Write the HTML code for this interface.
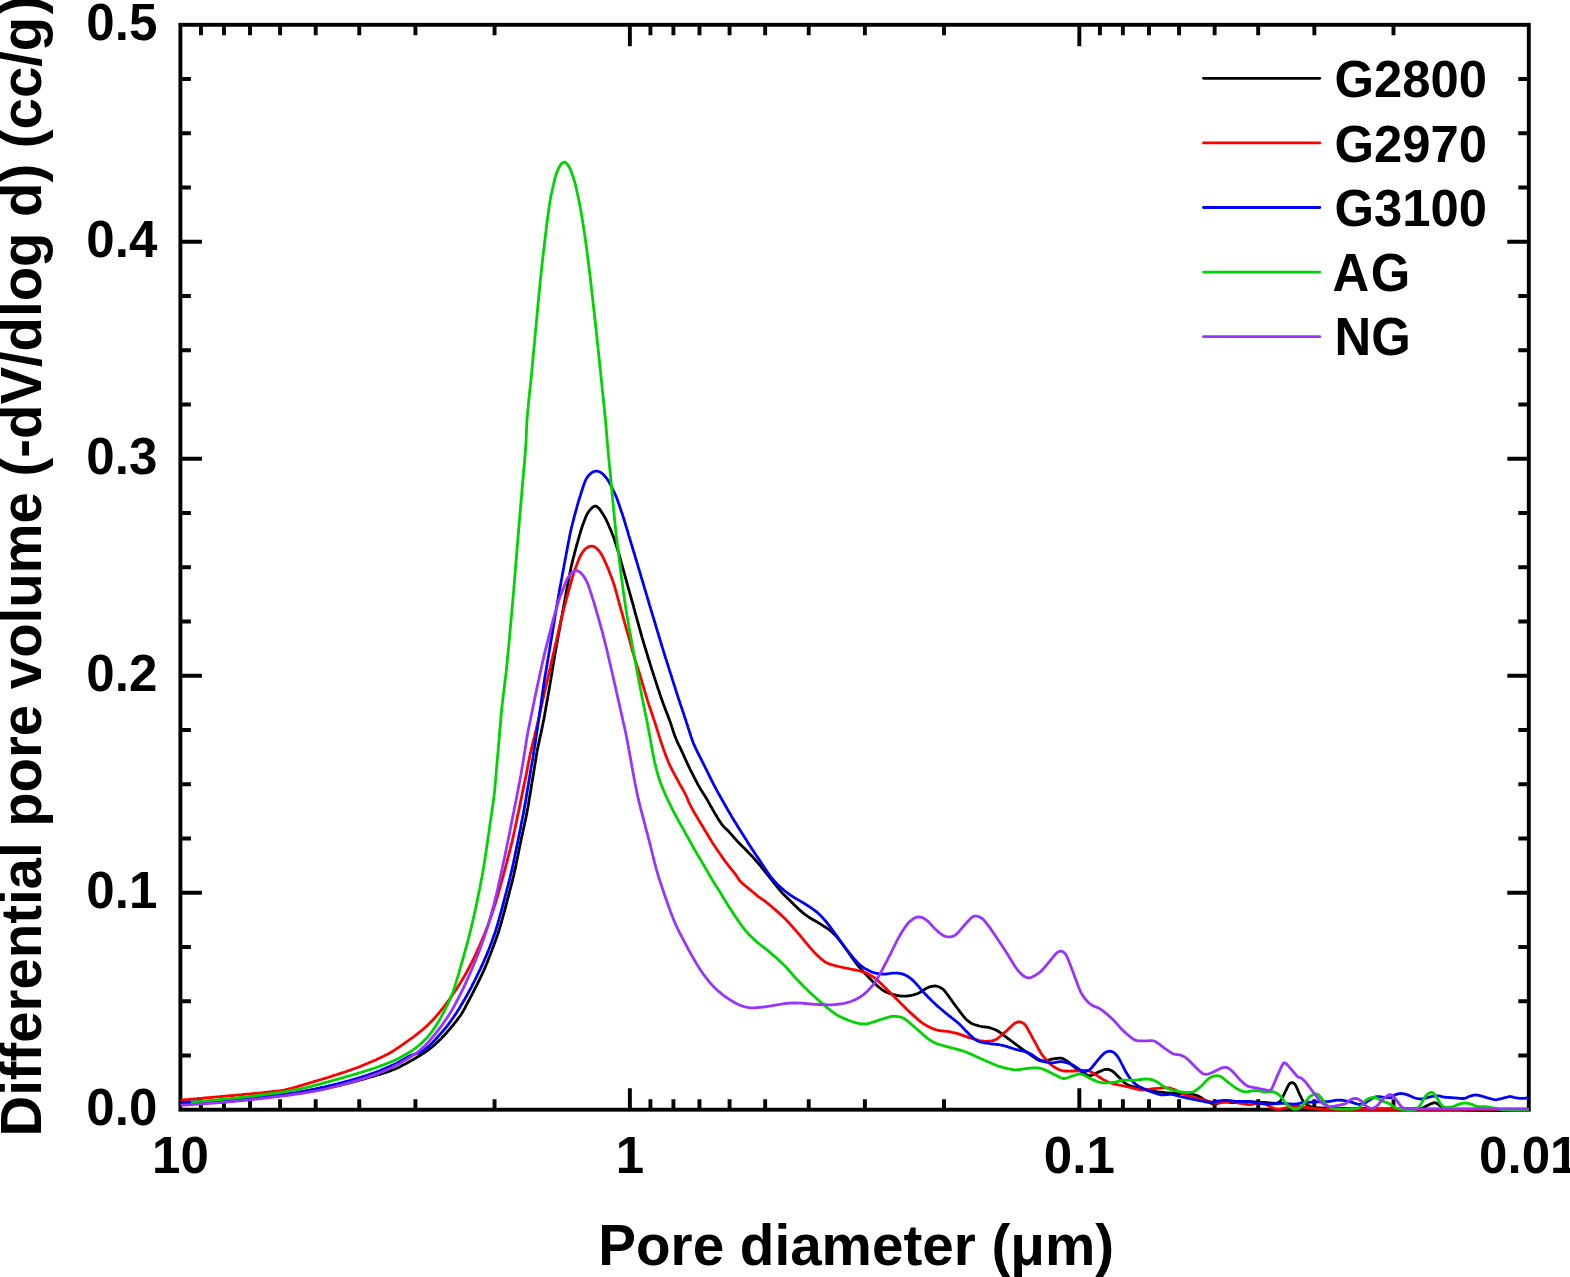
<!DOCTYPE html>
<html><head><meta charset="utf-8"><title>Pore size distribution</title>
<style>
html,body{margin:0;padding:0;background:#fff;}
body{width:1570px;height:1277px;overflow:hidden;}
svg{display:block;}
text{font-family:"Liberation Sans",Arial,Helvetica,sans-serif;font-weight:bold;fill:#000;}
.tl{font-size:51.1px;}
.yl{font-size:56.3px;}
.al{font-size:56.6px;}
.lg{font-size:50.8px;}
</style></head><body>
<svg width="1570" height="1277" viewBox="0 0 1570 1277">
<rect x="0" y="0" width="1570" height="1277" fill="#fff"/>
<path d="M629.87,1109.7 v-21.5 M629.87,24.8 v21.5 M494.56,1109.7 v-10.5 M494.56,24.8 v10.5 M415.42,1109.7 v-10.5 M415.42,24.8 v10.5 M359.26,1109.7 v-10.5 M359.26,24.8 v10.5 M315.70,1109.7 v-10.5 M315.70,24.8 v10.5 M280.11,1109.7 v-10.5 M280.11,24.8 v10.5 M250.02,1109.7 v-10.5 M250.02,24.8 v10.5 M223.96,1109.7 v-10.5 M223.96,24.8 v10.5 M200.97,1109.7 v-10.5 M200.97,24.8 v10.5 M1079.33,1109.7 v-21.5 M1079.33,24.8 v21.5 M944.03,1109.7 v-10.5 M944.03,24.8 v10.5 M864.88,1109.7 v-10.5 M864.88,24.8 v10.5 M808.73,1109.7 v-10.5 M808.73,24.8 v10.5 M765.17,1109.7 v-10.5 M765.17,24.8 v10.5 M729.58,1109.7 v-10.5 M729.58,24.8 v10.5 M699.49,1109.7 v-10.5 M699.49,24.8 v10.5 M673.42,1109.7 v-10.5 M673.42,24.8 v10.5 M650.43,1109.7 v-10.5 M650.43,24.8 v10.5 M1393.50,1109.7 v-10.5 M1393.50,24.8 v10.5 M1314.35,1109.7 v-10.5 M1314.35,24.8 v10.5 M1258.19,1109.7 v-10.5 M1258.19,24.8 v10.5 M1214.64,1109.7 v-10.5 M1214.64,24.8 v10.5 M1179.05,1109.7 v-10.5 M1179.05,24.8 v10.5 M1148.96,1109.7 v-10.5 M1148.96,24.8 v10.5 M1122.89,1109.7 v-10.5 M1122.89,24.8 v10.5 M1099.90,1109.7 v-10.5 M1099.90,24.8 v10.5 M180.4,1055.45 h10.5 M1528.8,1055.45 h-10.5 M180.4,1001.21 h10.5 M1528.8,1001.21 h-10.5 M180.4,946.97 h10.5 M1528.8,946.97 h-10.5 M180.4,892.72 h21.5 M1528.8,892.72 h-21.5 M180.4,838.48 h10.5 M1528.8,838.48 h-10.5 M180.4,784.23 h10.5 M1528.8,784.23 h-10.5 M180.4,729.98 h10.5 M1528.8,729.98 h-10.5 M180.4,675.74 h21.5 M1528.8,675.74 h-21.5 M180.4,621.50 h10.5 M1528.8,621.50 h-10.5 M180.4,567.25 h10.5 M1528.8,567.25 h-10.5 M180.4,513.00 h10.5 M1528.8,513.00 h-10.5 M180.4,458.76 h21.5 M1528.8,458.76 h-21.5 M180.4,404.51 h10.5 M1528.8,404.51 h-10.5 M180.4,350.27 h10.5 M1528.8,350.27 h-10.5 M180.4,296.02 h10.5 M1528.8,296.02 h-10.5 M180.4,241.78 h21.5 M1528.8,241.78 h-21.5 M180.4,187.53 h10.5 M1528.8,187.53 h-10.5 M180.4,133.29 h10.5 M1528.8,133.29 h-10.5 M180.4,79.04 h10.5 M1528.8,79.04 h-10.5" stroke="#000" stroke-width="3.9" fill="none"/>
<rect x="180.4" y="24.8" width="1348.3999999999999" height="1084.9" fill="none" stroke="#000" stroke-width="3.9"/>
<path d="M180.6,1104.0 L182.1,1103.9 L183.6,1103.9 L185.1,1103.8 L186.6,1103.7 L188.1,1103.6 L189.6,1103.5 L191.1,1103.5 L192.6,1103.4 L194.1,1103.3 L195.6,1103.2 L197.1,1103.1 L198.6,1103.0 L200.1,1102.9 L201.6,1102.9 L203.1,1102.8 L204.6,1102.7 L206.1,1102.6 L207.6,1102.5 L209.1,1102.4 L210.6,1102.3 L212.1,1102.2 L213.6,1102.1 L215.1,1102.0 L216.5,1101.8 L218.0,1101.7 L219.5,1101.6 L221.0,1101.5 L222.5,1101.4 L224.0,1101.3 L225.5,1101.2 L227.0,1101.0 L228.5,1100.9 L230.0,1100.8 L231.5,1100.7 L233.0,1100.6 L234.5,1100.4 L236.0,1100.3 L237.5,1100.2 L239.0,1100.0 L240.5,1099.9 L242.0,1099.8 L243.5,1099.6 L245.0,1099.5 L246.4,1099.3 L247.9,1099.2 L249.4,1099.1 L250.9,1098.9 L252.4,1098.8 L253.9,1098.6 L255.4,1098.4 L256.9,1098.3 L258.4,1098.1 L259.9,1098.0 L261.4,1097.8 L262.9,1097.7 L264.4,1097.5 L265.8,1097.3 L267.3,1097.2 L268.8,1097.0 L270.3,1096.8 L271.8,1096.6 L273.3,1096.5 L274.8,1096.3 L276.3,1096.1 L277.8,1095.9 L279.3,1095.8 L280.8,1095.6 L282.2,1095.4 L283.7,1095.2 L285.2,1095.0 L286.7,1094.8 L288.2,1094.7 L289.7,1094.5 L291.2,1094.3 L292.7,1094.0 L294.1,1093.8 L295.6,1093.6 L297.1,1093.4 L298.6,1093.2 L300.1,1093.0 L301.6,1092.7 L303.0,1092.5 L304.5,1092.3 L306.0,1092.0 L307.5,1091.8 L309.0,1091.5 L310.4,1091.3 L311.9,1091.0 L313.4,1090.8 L314.9,1090.5 L316.4,1090.3 L317.8,1090.0 L319.3,1089.7 L320.8,1089.4 L322.3,1089.1 L323.7,1088.8 L325.2,1088.5 L326.7,1088.2 L328.1,1087.9 L329.6,1087.6 L331.1,1087.3 L332.5,1087.0 L334.0,1086.7 L335.5,1086.3 L336.9,1086.0 L338.4,1085.6 L339.9,1085.3 L341.3,1085.0 L342.8,1084.6 L344.2,1084.2 L345.7,1083.9 L347.1,1083.5 L348.6,1083.1 L350.0,1082.8 L351.5,1082.4 L352.9,1082.0 L354.4,1081.6 L355.8,1081.2 L357.3,1080.8 L358.7,1080.4 L360.2,1080.0 L361.6,1079.6 L363.1,1079.2 L364.5,1078.8 L366.0,1078.4 L367.4,1078.0 L368.8,1077.5 L370.3,1077.1 L371.7,1076.7 L373.2,1076.3 L374.6,1075.9 L376.0,1075.5 L377.5,1075.0 L378.9,1074.6 L380.4,1074.2 L381.8,1073.7 L383.2,1073.3 L384.6,1072.8 L386.1,1072.3 L387.5,1071.9 L388.9,1071.4 L390.3,1070.9 L391.7,1070.3 L393.1,1069.8 L394.5,1069.2 L395.9,1068.7 L397.3,1068.0 L398.6,1067.4 L400.0,1066.7 L401.3,1066.0 L402.6,1065.3 L404.0,1064.6 L405.3,1063.9 L406.6,1063.2 L407.9,1062.4 L409.2,1061.7 L410.5,1061.0 L411.9,1060.3 L413.2,1059.5 L414.5,1058.8 L415.8,1058.0 L417.0,1057.3 L418.3,1056.5 L419.6,1055.7 L420.9,1054.9 L422.1,1054.1 L423.4,1053.3 L424.7,1052.5 L425.9,1051.6 L427.1,1050.7 L428.4,1049.9 L429.6,1049.0 L430.7,1048.0 L431.9,1047.1 L433.1,1046.1 L434.2,1045.2 L435.3,1044.2 L436.4,1043.1 L437.5,1042.1 L438.6,1041.1 L439.7,1040.0 L440.8,1039.0 L441.8,1037.9 L442.8,1036.8 L443.9,1035.7 L444.9,1034.6 L445.9,1033.5 L446.9,1032.4 L447.9,1031.2 L448.8,1030.1 L449.8,1029.0 L450.8,1027.8 L451.7,1026.6 L452.7,1025.5 L453.7,1024.3 L454.6,1023.2 L455.6,1022.0 L456.5,1020.8 L457.4,1019.6 L458.3,1018.4 L459.2,1017.2 L460.1,1016.0 L460.9,1014.7 L461.7,1013.5 L462.5,1012.2 L463.2,1010.9 L464.0,1009.6 L464.7,1008.3 L465.4,1006.9 L466.1,1005.6 L466.8,1004.3 L467.5,1003.0 L468.2,1001.7 L468.9,1000.3 L469.6,999.0 L470.3,997.7 L471.0,996.3 L471.7,995.0 L472.4,993.7 L473.1,992.3 L473.7,991.0 L474.4,989.7 L475.1,988.3 L475.8,987.0 L476.5,985.6 L477.2,984.3 L477.8,983.0 L478.5,981.6 L479.2,980.3 L479.8,978.9 L480.5,977.6 L481.1,976.2 L481.8,974.9 L482.4,973.5 L483.1,972.2 L483.7,970.8 L484.3,969.4 L484.9,968.0 L485.5,966.7 L486.0,965.3 L486.6,963.9 L487.2,962.5 L487.7,961.1 L488.3,959.7 L488.8,958.3 L489.3,956.9 L489.9,955.5 L490.4,954.1 L490.9,952.7 L491.5,951.3 L492.0,949.9 L492.5,948.5 L493.1,947.1 L493.6,945.7 L494.1,944.3 L494.7,942.9 L495.2,941.5 L495.7,940.0 L496.2,938.6 L496.7,937.2 L497.2,935.8 L497.7,934.4 L498.1,933.0 L498.6,931.5 L499.1,930.1 L499.5,928.7 L499.9,927.2 L500.4,925.8 L500.8,924.4 L501.2,922.9 L501.6,921.5 L502.0,920.0 L502.4,918.6 L502.8,917.1 L503.2,915.7 L503.6,914.2 L504.0,912.8 L504.4,911.3 L504.8,909.9 L505.2,908.4 L505.6,907.0 L505.9,905.5 L506.3,904.1 L506.7,902.6 L507.1,901.2 L507.4,899.7 L507.8,898.3 L508.2,896.8 L508.6,895.4 L509.0,893.9 L509.3,892.5 L509.7,891.0 L510.1,889.6 L510.5,888.1 L510.9,886.7 L511.2,885.2 L511.6,883.8 L512.0,882.3 L512.3,880.9 L512.7,879.4 L513.1,877.9 L513.4,876.5 L513.8,875.0 L514.1,873.6 L514.4,872.1 L514.7,870.6 L515.1,869.2 L515.4,867.7 L515.7,866.2 L516.0,864.8 L516.3,863.3 L516.6,861.8 L516.9,860.3 L517.2,858.9 L517.5,857.4 L517.8,855.9 L518.1,854.5 L518.4,853.0 L518.7,851.5 L519.0,850.1 L519.3,848.6 L519.6,847.1 L519.9,845.6 L520.2,844.2 L520.5,842.7 L520.8,841.2 L521.1,839.8 L521.4,838.3 L521.7,836.8 L522.1,835.4 L522.4,833.9 L522.7,832.4 L523.0,831.0 L523.3,829.5 L523.7,828.0 L524.0,826.6 L524.3,825.1 L524.6,823.6 L524.9,822.2 L525.3,820.7 L525.6,819.2 L525.9,817.8 L526.2,816.3 L526.5,814.8 L526.8,813.4 L527.0,811.9 L527.3,810.4 L527.6,808.9 L527.9,807.5 L528.1,806.0 L528.4,804.5 L528.6,803.0 L528.9,801.5 L529.1,800.1 L529.4,798.6 L529.6,797.1 L529.9,795.6 L530.1,794.1 L530.3,792.7 L530.6,791.2 L530.8,789.7 L531.1,788.2 L531.3,786.7 L531.5,785.3 L531.8,783.8 L532.0,782.3 L532.3,780.8 L532.5,779.3 L532.8,777.9 L533.0,776.4 L533.2,774.9 L533.5,773.4 L533.7,771.9 L534.0,770.5 L534.2,769.0 L534.4,767.5 L534.7,766.0 L534.9,764.5 L535.2,763.0 L535.4,761.6 L535.7,760.1 L535.9,758.6 L536.1,757.1 L536.4,755.6 L536.6,754.2 L536.9,752.7 L537.2,751.2 L537.4,749.7 L537.7,748.3 L538.0,746.8 L538.3,745.3 L538.6,743.9 L539.0,742.4 L539.3,740.9 L539.6,739.5 L539.9,738.0 L540.2,736.5 L540.5,735.1 L540.9,733.6 L541.2,732.1 L541.5,730.7 L541.8,729.2 L542.1,727.7 L542.4,726.3 L542.7,724.8 L543.0,723.3 L543.3,721.8 L543.6,720.4 L543.9,718.9 L544.1,717.4 L544.4,715.9 L544.7,714.5 L544.9,713.0 L545.2,711.5 L545.5,710.0 L545.7,708.6 L546.0,707.1 L546.3,705.6 L546.5,704.1 L546.8,702.6 L547.0,701.2 L547.3,699.7 L547.6,698.2 L547.8,696.7 L548.1,695.3 L548.3,693.8 L548.6,692.3 L548.9,690.8 L549.1,689.3 L549.4,687.9 L549.6,686.4 L549.9,684.9 L550.1,683.4 L550.4,682.0 L550.6,680.5 L550.9,679.0 L551.1,677.5 L551.4,676.0 L551.6,674.6 L551.9,673.1 L552.1,671.6 L552.3,670.1 L552.6,668.6 L552.8,667.1 L553.1,665.7 L553.3,664.2 L553.6,662.7 L553.8,661.2 L554.0,659.7 L554.3,658.3 L554.5,656.8 L554.8,655.3 L555.0,653.8 L555.3,652.4 L555.6,650.9 L555.8,649.4 L556.1,647.9 L556.4,646.4 L556.6,645.0 L556.9,643.5 L557.2,642.0 L557.4,640.5 L557.7,639.1 L558.0,637.6 L558.2,636.1 L558.5,634.6 L558.8,633.2 L559.0,631.7 L559.3,630.2 L559.6,628.7 L559.9,627.3 L560.1,625.8 L560.4,624.3 L560.7,622.8 L560.9,621.4 L561.2,619.9 L561.5,618.4 L561.7,616.9 L562.0,615.4 L562.3,614.0 L562.5,612.5 L562.8,611.0 L563.1,609.5 L563.4,608.1 L563.6,606.6 L563.9,605.1 L564.2,603.6 L564.4,602.2 L564.7,600.7 L565.0,599.2 L565.2,597.7 L565.5,596.3 L565.8,594.8 L566.0,593.3 L566.3,591.8 L566.6,590.4 L566.8,588.9 L567.1,587.4 L567.4,585.9 L567.7,584.5 L568.0,583.0 L568.2,581.5 L568.5,580.0 L568.8,578.6 L569.1,577.1 L569.4,575.6 L569.7,574.1 L570.0,572.7 L570.3,571.2 L570.6,569.7 L570.9,568.3 L571.2,566.8 L571.5,565.3 L571.9,563.9 L572.2,562.4 L572.6,561.0 L572.9,559.5 L573.3,558.0 L573.7,556.6 L574.1,555.1 L574.4,553.7 L574.8,552.2 L575.2,550.8 L575.6,549.3 L576.0,547.9 L576.4,546.4 L576.8,545.0 L577.1,543.5 L577.6,542.1 L578.0,540.6 L578.4,539.2 L578.8,537.8 L579.2,536.3 L579.6,534.9 L580.1,533.4 L580.5,532.0 L580.9,530.6 L581.3,529.1 L581.8,527.7 L582.3,526.3 L582.7,524.9 L583.3,523.5 L583.8,522.1 L584.3,520.7 L584.9,519.3 L585.4,517.9 L586.0,516.5 L586.6,515.1 L587.3,513.8 L588.0,512.5 L588.9,511.3 L589.9,510.1 L590.9,508.9 L592.1,507.7 L593.5,506.7 L594.9,506.1 L596.2,506.2 L597.4,507.0 L598.5,508.0 L599.6,509.1 L600.5,510.4 L601.4,511.7 L602.2,513.0 L603.0,514.3 L603.8,515.5 L604.6,516.8 L605.3,518.1 L606.0,519.4 L606.6,520.8 L607.3,522.1 L607.9,523.5 L608.5,524.9 L609.1,526.3 L609.7,527.6 L610.3,529.0 L610.9,530.4 L611.5,531.8 L612.0,533.2 L612.6,534.6 L613.1,536.0 L613.6,537.4 L614.1,538.8 L614.6,540.2 L615.0,541.7 L615.5,543.1 L616.0,544.5 L616.4,545.9 L616.9,547.4 L617.3,548.8 L617.8,550.2 L618.2,551.7 L618.7,553.1 L619.1,554.5 L619.5,556.0 L619.9,557.4 L620.3,558.9 L620.7,560.3 L621.1,561.8 L621.5,563.2 L621.9,564.6 L622.3,566.1 L622.7,567.5 L623.1,569.0 L623.5,570.4 L623.9,571.9 L624.3,573.3 L624.7,574.8 L625.1,576.2 L625.5,577.7 L625.9,579.1 L626.3,580.6 L626.7,582.0 L627.1,583.4 L627.5,584.9 L627.9,586.3 L628.3,587.8 L628.7,589.2 L629.1,590.7 L629.5,592.1 L629.9,593.6 L630.3,595.0 L630.7,596.4 L631.1,597.9 L631.5,599.3 L631.9,600.8 L632.4,602.2 L632.8,603.7 L633.2,605.1 L633.6,606.6 L633.9,608.0 L634.3,609.5 L634.7,610.9 L635.1,612.4 L635.5,613.8 L635.9,615.3 L636.3,616.7 L636.7,618.2 L637.1,619.6 L637.5,621.1 L637.9,622.5 L638.3,623.9 L638.7,625.4 L639.1,626.8 L639.5,628.3 L639.9,629.7 L640.3,631.2 L640.7,632.6 L641.1,634.1 L641.5,635.5 L641.9,636.9 L642.3,638.4 L642.8,639.8 L643.2,641.3 L643.6,642.7 L644.1,644.1 L644.5,645.6 L644.9,647.0 L645.4,648.4 L645.8,649.9 L646.2,651.3 L646.7,652.7 L647.1,654.2 L647.6,655.6 L648.0,657.1 L648.4,658.5 L648.9,659.9 L649.3,661.3 L649.8,662.8 L650.2,664.2 L650.7,665.6 L651.1,667.1 L651.6,668.5 L652.0,669.9 L652.5,671.4 L652.9,672.8 L653.4,674.2 L653.9,675.7 L654.3,677.1 L654.8,678.5 L655.2,679.9 L655.7,681.4 L656.2,682.8 L656.6,684.2 L657.1,685.6 L657.6,687.1 L658.0,688.5 L658.5,689.9 L659.0,691.3 L659.5,692.8 L659.9,694.2 L660.4,695.6 L660.9,697.0 L661.4,698.4 L661.9,699.9 L662.4,701.3 L662.9,702.7 L663.4,704.1 L663.9,705.5 L664.5,706.9 L665.0,708.3 L665.5,709.7 L666.1,711.1 L666.6,712.5 L667.1,713.9 L667.7,715.3 L668.2,716.7 L668.7,718.1 L669.3,719.5 L669.8,720.9 L670.3,722.3 L670.8,723.8 L671.3,725.2 L671.7,726.6 L672.2,728.0 L672.7,729.5 L673.1,730.9 L673.6,732.3 L674.1,733.7 L674.6,735.1 L675.1,736.6 L675.7,738.0 L676.2,739.3 L676.8,740.7 L677.4,742.1 L678.1,743.5 L678.7,744.8 L679.4,746.2 L680.0,747.5 L680.7,748.9 L681.3,750.2 L681.9,751.6 L682.6,752.9 L683.2,754.3 L683.8,755.7 L684.4,757.0 L685.0,758.4 L685.7,759.8 L686.3,761.1 L686.9,762.5 L687.5,763.9 L688.2,765.2 L688.8,766.6 L689.5,767.9 L690.1,769.3 L690.8,770.6 L691.5,772.0 L692.2,773.3 L692.9,774.6 L693.5,776.0 L694.2,777.3 L694.9,778.6 L695.6,780.0 L696.3,781.3 L697.0,782.6 L697.7,784.0 L698.4,785.3 L699.1,786.6 L699.8,787.9 L700.6,789.2 L701.4,790.5 L702.2,791.7 L703.0,793.0 L703.8,794.3 L704.6,795.5 L705.4,796.8 L706.2,798.1 L707.0,799.4 L707.7,800.7 L708.4,802.0 L709.2,803.3 L709.9,804.6 L710.6,805.9 L711.4,807.2 L712.1,808.5 L712.8,809.8 L713.6,811.1 L714.3,812.4 L715.1,813.7 L715.9,815.0 L716.6,816.3 L717.4,817.6 L718.2,818.9 L719.0,820.2 L719.8,821.4 L720.7,822.7 L721.5,823.9 L722.5,825.1 L723.4,826.2 L724.4,827.3 L725.5,828.4 L726.6,829.4 L727.7,830.4 L728.7,831.5 L729.7,832.6 L730.7,833.7 L731.7,834.9 L732.7,836.0 L733.7,837.2 L734.7,838.3 L735.7,839.4 L736.7,840.5 L737.7,841.6 L738.7,842.7 L739.8,843.8 L740.8,844.9 L741.9,845.9 L743.0,847.0 L744.0,848.0 L745.1,849.1 L746.2,850.1 L747.2,851.2 L748.2,852.3 L749.3,853.4 L750.3,854.5 L751.3,855.5 L752.4,856.6 L753.4,857.8 L754.4,858.9 L755.4,860.0 L756.4,861.1 L757.3,862.3 L758.3,863.4 L759.3,864.6 L760.2,865.7 L761.2,866.9 L762.1,868.1 L763.1,869.2 L764.0,870.4 L764.9,871.6 L765.9,872.7 L766.8,873.9 L767.8,875.1 L768.7,876.2 L769.6,877.4 L770.6,878.6 L771.5,879.8 L772.4,880.9 L773.4,882.1 L774.3,883.3 L775.2,884.4 L776.2,885.6 L777.1,886.8 L778.1,888.0 L779.0,889.1 L779.9,890.3 L780.9,891.4 L781.9,892.6 L782.9,893.7 L784.0,894.7 L785.0,895.8 L786.1,896.8 L787.2,897.9 L788.3,898.9 L789.4,900.0 L790.4,901.0 L791.5,902.1 L792.6,903.1 L793.6,904.2 L794.7,905.2 L795.8,906.3 L796.8,907.3 L797.9,908.4 L799.0,909.4 L800.1,910.4 L801.3,911.4 L802.4,912.4 L803.6,913.3 L804.8,914.3 L806.0,915.2 L807.2,916.0 L808.4,916.9 L809.7,917.7 L811.0,918.5 L812.2,919.2 L813.5,920.0 L814.9,920.7 L816.2,921.5 L817.5,922.2 L818.7,923.0 L820.0,923.8 L821.3,924.6 L822.6,925.4 L823.8,926.2 L825.1,927.0 L826.4,927.8 L827.6,928.6 L828.8,929.5 L830.0,930.4 L831.2,931.4 L832.3,932.3 L833.4,933.4 L834.5,934.4 L835.6,935.5 L836.6,936.7 L837.5,937.8 L838.5,939.0 L839.4,940.1 L840.3,941.3 L841.3,942.5 L842.2,943.7 L843.0,944.9 L843.9,946.1 L844.8,947.3 L845.7,948.5 L846.6,949.7 L847.5,951.0 L848.3,952.2 L849.2,953.4 L850.0,954.7 L850.9,955.9 L851.7,957.1 L852.6,958.4 L853.5,959.6 L854.3,960.8 L855.2,962.0 L856.1,963.2 L857.0,964.4 L858.0,965.6 L858.9,966.8 L859.9,967.9 L860.9,969.0 L861.9,970.1 L862.9,971.2 L863.9,972.3 L864.9,973.4 L866.0,974.5 L867.0,975.6 L868.1,976.7 L869.1,977.8 L870.1,978.9 L871.2,979.9 L872.2,981.0 L873.3,982.1 L874.4,983.1 L875.4,984.1 L876.5,985.1 L877.7,986.1 L878.8,987.1 L880.0,988.0 L881.2,989.0 L882.4,989.9 L883.7,990.8 L885.0,991.5 L886.3,992.2 L887.7,992.7 L889.1,993.3 L890.6,993.7 L892.0,994.1 L893.5,994.5 L894.9,994.9 L896.4,995.3 L897.9,995.5 L899.4,995.8 L900.9,996.0 L902.4,996.1 L903.9,996.1 L905.4,996.1 L906.9,996.0 L908.3,995.8 L909.8,995.6 L911.3,995.4 L912.8,995.0 L914.2,994.6 L915.7,994.2 L917.1,993.7 L918.6,993.1 L919.9,992.4 L921.2,991.6 L922.4,990.8 L923.7,990.0 L924.9,989.2 L926.2,988.4 L927.6,987.8 L929.0,987.2 L930.5,986.7 L932.0,986.3 L933.5,986.1 L935.0,986.0 L936.4,986.2 L937.9,986.5 L939.3,987.0 L940.7,987.7 L942.0,988.5 L943.3,989.5 L944.4,990.6 L945.3,991.7 L946.2,993.0 L947.1,994.2 L948.0,995.4 L948.9,996.6 L949.7,997.8 L950.6,999.0 L951.5,1000.2 L952.4,1001.5 L953.2,1002.7 L954.1,1003.9 L955.0,1005.1 L955.9,1006.3 L956.8,1007.5 L957.7,1008.7 L958.6,1009.9 L959.5,1011.1 L960.4,1012.3 L961.3,1013.5 L962.2,1014.7 L963.1,1015.9 L964.1,1017.0 L965.1,1018.1 L966.1,1019.2 L967.2,1020.2 L968.3,1021.2 L969.6,1022.1 L970.9,1023.0 L972.2,1023.7 L973.6,1024.3 L975.0,1024.8 L976.5,1025.2 L977.9,1025.6 L979.4,1026.0 L980.8,1026.3 L982.3,1026.6 L983.8,1026.8 L985.3,1027.0 L986.8,1027.2 L988.3,1027.4 L989.7,1027.8 L991.2,1028.2 L992.6,1028.7 L994.0,1029.2 L995.4,1029.8 L996.8,1030.4 L998.1,1031.2 L999.4,1032.0 L1000.6,1032.9 L1001.8,1033.8 L1003.0,1034.7 L1004.2,1035.6 L1005.4,1036.5 L1006.6,1037.4 L1007.8,1038.3 L1009.0,1039.2 L1010.2,1040.1 L1011.4,1041.0 L1012.6,1041.9 L1013.8,1042.8 L1015.0,1043.7 L1016.2,1044.6 L1017.4,1045.5 L1018.6,1046.4 L1019.8,1047.3 L1021.0,1048.2 L1022.2,1049.0 L1023.4,1049.9 L1024.6,1050.8 L1025.8,1051.6 L1027.1,1052.5 L1028.3,1053.4 L1029.5,1054.2 L1030.8,1055.1 L1032.0,1055.9 L1033.3,1056.8 L1034.6,1057.7 L1035.8,1058.6 L1037.2,1059.4 L1038.5,1060.1 L1039.9,1060.7 L1041.3,1061.0 L1042.8,1061.1 L1044.2,1061.0 L1045.7,1060.7 L1047.2,1060.4 L1048.6,1060.0 L1050.1,1059.6 L1051.6,1059.2 L1053.1,1059.0 L1054.6,1058.7 L1056.1,1058.5 L1057.5,1058.3 L1059.0,1058.1 L1060.5,1058.1 L1062.0,1058.4 L1063.4,1058.9 L1064.8,1059.6 L1066.1,1060.4 L1067.4,1061.3 L1068.6,1062.2 L1069.8,1063.2 L1070.9,1064.1 L1072.0,1065.1 L1073.2,1066.1 L1074.3,1067.0 L1075.5,1067.9 L1076.7,1068.8 L1077.9,1069.6 L1079.2,1070.4 L1080.4,1071.2 L1081.8,1072.0 L1083.1,1072.9 L1084.5,1073.8 L1086.0,1074.6 L1087.4,1075.3 L1088.8,1075.7 L1090.2,1075.7 L1091.6,1075.3 L1093.0,1074.7 L1094.3,1074.0 L1095.7,1073.4 L1097.0,1072.7 L1098.4,1072.1 L1099.8,1071.5 L1101.2,1070.9 L1102.5,1070.3 L1103.9,1069.8 L1105.4,1069.3 L1106.9,1069.2 L1108.4,1069.4 L1109.9,1069.9 L1111.2,1070.5 L1112.5,1071.2 L1113.7,1072.2 L1114.9,1073.2 L1115.9,1074.3 L1117.0,1075.3 L1118.0,1076.4 L1119.1,1077.4 L1120.2,1078.5 L1121.3,1079.5 L1122.3,1080.6 L1123.4,1081.6 L1124.5,1082.6 L1125.7,1083.5 L1126.9,1084.4 L1128.3,1085.1 L1129.7,1085.7 L1131.1,1086.1 L1132.6,1086.5 L1134.0,1086.9 L1135.5,1087.3 L1136.9,1087.7 L1138.4,1088.1 L1139.8,1088.4 L1141.3,1088.8 L1142.7,1089.1 L1144.2,1089.5 L1145.7,1089.8 L1147.1,1090.1 L1148.6,1090.4 L1150.1,1090.7 L1151.6,1090.9 L1153.0,1091.2 L1154.5,1091.4 L1156.0,1091.7 L1157.5,1091.9 L1159.0,1092.1 L1160.5,1092.2 L1162.0,1092.4 L1163.5,1092.5 L1165.0,1092.7 L1166.4,1092.8 L1167.9,1092.9 L1169.4,1093.0 L1170.9,1093.1 L1172.4,1093.2 L1173.9,1093.3 L1175.4,1093.4 L1176.9,1093.5 L1178.4,1093.5 L1179.9,1093.6 L1181.4,1093.6 L1182.9,1093.6 L1184.4,1093.6 L1185.9,1093.7 L1187.4,1093.7 L1188.9,1093.8 L1190.4,1094.0 L1191.9,1094.2 L1193.4,1094.5 L1194.8,1094.9 L1196.3,1095.3 L1197.7,1095.8 L1199.1,1096.5 L1200.4,1097.2 L1201.7,1098.0 L1202.9,1098.8 L1204.1,1099.7 L1205.4,1100.5 L1206.8,1101.2 L1208.1,1101.9 L1209.5,1102.5 L1210.9,1103.1 L1212.3,1103.6 L1213.7,1104.0 L1215.1,1104.1 L1216.6,1103.8 L1218.0,1103.2 L1219.4,1102.4 L1220.9,1101.9 L1222.3,1101.7 L1223.8,1101.8 L1225.3,1101.9 L1226.8,1102.1 L1228.3,1102.2 L1229.8,1102.4 L1231.3,1102.5 L1232.8,1102.5 L1234.3,1102.5 L1235.8,1102.4 L1237.3,1102.3 L1238.8,1102.2 L1240.3,1102.1 L1241.8,1102.0 L1243.3,1101.8 L1244.8,1101.8 L1246.3,1101.7 L1247.8,1101.7 L1249.3,1101.7 L1250.8,1101.8 L1252.3,1101.8 L1253.8,1101.9 L1255.3,1101.9 L1256.8,1102.0 L1258.3,1102.1 L1259.8,1102.2 L1261.3,1102.3 L1262.8,1102.4 L1264.3,1102.4 L1265.8,1102.5 L1267.3,1102.7 L1268.8,1102.8 L1270.3,1102.9 L1271.8,1103.1 L1273.3,1103.2 L1274.8,1103.3 L1276.3,1103.2 L1277.8,1102.8 L1279.3,1102.0 L1280.4,1101.0 L1281.3,1099.7 L1282.0,1098.4 L1282.7,1097.1 L1283.4,1095.7 L1284.0,1094.4 L1284.7,1093.0 L1285.3,1091.7 L1286.0,1090.4 L1286.6,1089.0 L1287.2,1087.7 L1287.9,1086.3 L1288.6,1085.0 L1289.4,1083.7 L1290.8,1082.8 L1292.3,1082.6 L1293.6,1083.2 L1294.8,1084.2 L1295.7,1085.5 L1296.4,1086.9 L1297.0,1088.3 L1297.6,1089.6 L1298.2,1091.0 L1298.7,1092.4 L1299.4,1093.7 L1300.0,1095.1 L1300.7,1096.4 L1301.3,1097.8 L1302.0,1099.1 L1302.7,1100.4 L1303.4,1101.8 L1304.3,1102.9 L1305.5,1103.9 L1306.8,1104.8 L1308.1,1105.5 L1309.6,1106.1 L1311.0,1106.7 L1312.4,1107.2 L1313.8,1107.5 L1315.3,1107.7 L1316.8,1107.8 L1318.3,1107.9 L1319.8,1108.0 L1321.3,1108.0 L1322.8,1108.1 L1324.3,1108.1 L1325.8,1108.2 L1327.3,1108.2 L1328.8,1108.3 L1330.3,1108.3 L1331.8,1108.4 L1333.3,1108.4 L1334.8,1108.4 L1336.3,1108.5 L1337.8,1108.5 L1339.3,1108.5 L1340.8,1108.5 L1342.3,1108.5 L1343.8,1108.5 L1345.3,1108.5 L1346.8,1108.6 L1348.3,1108.6 L1349.8,1108.6 L1351.3,1108.6 L1352.8,1108.6 L1354.3,1108.6 L1355.8,1108.6 L1357.3,1108.6 L1358.8,1108.6 L1360.3,1108.7 L1361.8,1108.7 L1363.3,1108.7 L1364.8,1108.7 L1366.3,1108.7 L1367.8,1108.7 L1369.3,1108.7 L1370.8,1108.7 L1372.3,1108.7 L1373.8,1108.8 L1375.3,1108.8 L1376.8,1108.8 L1378.3,1108.8 L1379.8,1108.8 L1381.3,1108.8 L1382.8,1108.8 L1384.3,1108.8 L1385.8,1108.8 L1387.3,1108.8 L1388.8,1108.8 L1390.3,1108.8 L1391.8,1108.8 L1393.3,1108.8 L1394.8,1108.8 L1396.3,1108.8 L1397.8,1108.8 L1399.3,1108.8 L1400.8,1108.8 L1402.3,1108.8 L1403.8,1108.8 L1405.3,1108.8 L1406.8,1108.8 L1408.3,1108.8 L1409.8,1108.8 L1411.3,1108.8 L1412.8,1108.8 L1414.3,1108.8 L1415.8,1108.8 L1417.3,1108.8 L1418.8,1108.7 L1420.3,1108.5 L1421.8,1108.2 L1423.2,1107.7 L1424.6,1107.0 L1425.9,1106.3 L1427.2,1105.6 L1428.6,1104.9 L1430.0,1104.3 L1431.4,1103.6 L1432.8,1103.1 L1434.2,1102.7 L1435.6,1102.8 L1436.9,1103.5 L1438.2,1104.4 L1439.5,1105.3 L1440.7,1106.3 L1441.8,1107.3 L1443.1,1108.1 L1444.5,1108.5 L1446.0,1108.8 L1447.5,1109.0 L1449.0,1109.1 L1450.5,1109.2 L1452.0,1109.3 L1453.5,1109.4 L1455.0,1109.4 L1456.5,1109.5 L1458.0,1109.6 L1459.5,1109.6 L1461.0,1109.7 L1462.5,1109.8 L1464.0,1109.8 L1465.5,1109.9 L1467.0,1109.9 L1468.5,1110.0 L1469.9,1110.0 L1471.4,1110.1 L1472.9,1110.2 L1474.4,1110.2 L1475.9,1110.2 L1477.4,1110.3 L1478.9,1110.3 L1480.4,1110.4 L1481.9,1110.4 L1483.4,1110.4 L1484.9,1110.5 L1486.4,1110.5 L1487.9,1110.5 L1489.4,1110.5 L1490.9,1110.6 L1492.4,1110.6 L1493.9,1110.6 L1495.4,1110.6 L1496.9,1110.6 L1498.4,1110.6 L1499.9,1110.6 L1501.4,1110.6 L1502.9,1110.5 L1504.4,1110.5 L1505.9,1110.5 L1507.4,1110.5 L1508.9,1110.4 L1510.4,1110.4 L1511.9,1110.3 L1513.4,1110.3 L1514.9,1110.2 L1516.4,1110.1 L1517.9,1110.1 L1519.4,1110.0 L1521.0,1109.9 L1522.5,1109.8 L1524.0,1109.7 L1525.5,1109.6 L1527.0,1109.5 L1528.5,1109.4" fill="none" stroke="#000000" stroke-width="2.8" stroke-linejoin="round" stroke-linecap="butt"/>
<path d="M180.6,1100.1 L182.1,1100.0 L183.6,1099.8 L185.1,1099.7 L186.6,1099.6 L188.1,1099.5 L189.6,1099.3 L191.1,1099.2 L192.6,1099.1 L194.1,1098.9 L195.6,1098.8 L197.0,1098.7 L198.5,1098.5 L200.0,1098.4 L201.5,1098.3 L203.0,1098.1 L204.5,1098.0 L206.0,1097.9 L207.5,1097.7 L209.0,1097.6 L210.5,1097.5 L212.0,1097.3 L213.5,1097.2 L215.0,1097.1 L216.5,1096.9 L218.0,1096.8 L219.5,1096.7 L221.0,1096.5 L222.5,1096.4 L223.9,1096.3 L225.4,1096.1 L226.9,1096.0 L228.4,1095.9 L229.9,1095.7 L231.4,1095.6 L232.9,1095.5 L234.4,1095.3 L235.9,1095.2 L237.4,1095.1 L238.9,1094.9 L240.4,1094.8 L241.9,1094.7 L243.4,1094.5 L244.9,1094.4 L246.4,1094.2 L247.9,1094.1 L249.3,1094.0 L250.8,1093.8 L252.3,1093.7 L253.8,1093.5 L255.3,1093.4 L256.8,1093.3 L258.3,1093.1 L259.8,1093.0 L261.3,1092.8 L262.8,1092.7 L264.3,1092.5 L265.8,1092.3 L267.3,1092.2 L268.8,1092.0 L270.2,1091.8 L271.7,1091.7 L273.2,1091.5 L274.7,1091.3 L276.2,1091.2 L277.7,1091.0 L279.2,1090.8 L280.7,1090.6 L282.2,1090.3 L283.6,1090.1 L285.1,1089.8 L286.6,1089.4 L288.0,1089.1 L289.5,1088.7 L290.9,1088.4 L292.4,1088.0 L293.9,1087.6 L295.3,1087.2 L296.7,1086.8 L298.2,1086.3 L299.6,1085.9 L301.1,1085.5 L302.5,1085.1 L304.0,1084.6 L305.4,1084.2 L306.8,1083.8 L308.3,1083.4 L309.7,1082.9 L311.2,1082.5 L312.6,1082.1 L314.0,1081.6 L315.5,1081.2 L316.9,1080.8 L318.3,1080.3 L319.8,1079.9 L321.2,1079.5 L322.6,1079.0 L324.1,1078.6 L325.5,1078.2 L326.9,1077.7 L328.4,1077.3 L329.8,1076.8 L331.2,1076.4 L332.7,1075.9 L334.1,1075.4 L335.5,1075.0 L337.0,1074.5 L338.4,1074.1 L339.8,1073.6 L341.2,1073.1 L342.7,1072.7 L344.1,1072.2 L345.5,1071.7 L346.9,1071.2 L348.4,1070.7 L349.8,1070.3 L351.2,1069.8 L352.6,1069.3 L354.0,1068.8 L355.4,1068.3 L356.8,1067.7 L358.2,1067.2 L359.6,1066.7 L361.0,1066.1 L362.4,1065.5 L363.8,1065.0 L365.2,1064.4 L366.6,1063.8 L368.0,1063.2 L369.3,1062.6 L370.7,1062.0 L372.1,1061.5 L373.5,1060.9 L374.9,1060.3 L376.2,1059.7 L377.6,1059.0 L379.0,1058.4 L380.3,1057.8 L381.7,1057.1 L383.0,1056.5 L384.4,1055.8 L385.7,1055.1 L387.0,1054.4 L388.4,1053.7 L389.7,1053.0 L391.0,1052.2 L392.3,1051.5 L393.6,1050.7 L394.8,1049.9 L396.1,1049.1 L397.3,1048.2 L398.6,1047.4 L399.8,1046.6 L401.1,1045.7 L402.3,1044.8 L403.5,1044.0 L404.7,1043.1 L406.0,1042.2 L407.2,1041.4 L408.4,1040.5 L409.6,1039.6 L410.8,1038.7 L412.1,1037.9 L413.3,1037.0 L414.5,1036.1 L415.7,1035.2 L416.8,1034.3 L418.0,1033.3 L419.2,1032.4 L420.4,1031.5 L421.5,1030.5 L422.7,1029.5 L423.8,1028.6 L425.0,1027.6 L426.1,1026.6 L427.2,1025.6 L428.3,1024.5 L429.4,1023.5 L430.4,1022.4 L431.5,1021.4 L432.5,1020.3 L433.5,1019.2 L434.6,1018.1 L435.6,1016.9 L436.5,1015.8 L437.5,1014.7 L438.5,1013.5 L439.4,1012.3 L440.4,1011.2 L441.3,1010.0 L442.3,1008.8 L443.2,1007.7 L444.1,1006.5 L445.0,1005.3 L445.9,1004.1 L446.8,1002.9 L447.7,1001.7 L448.6,1000.5 L449.5,999.2 L450.3,998.0 L451.2,996.8 L452.0,995.5 L452.9,994.3 L453.7,993.1 L454.6,991.8 L455.4,990.6 L456.2,989.3 L457.1,988.1 L457.9,986.8 L458.7,985.5 L459.5,984.3 L460.3,983.0 L461.1,981.7 L461.8,980.4 L462.6,979.1 L463.4,977.9 L464.1,976.6 L464.9,975.3 L465.6,974.0 L466.4,972.7 L467.1,971.3 L467.8,970.0 L468.5,968.7 L469.2,967.4 L469.9,966.0 L470.6,964.7 L471.3,963.4 L472.0,962.0 L472.6,960.7 L473.3,959.3 L473.9,958.0 L474.6,956.6 L475.2,955.3 L475.9,953.9 L476.5,952.5 L477.1,951.2 L477.7,949.8 L478.3,948.4 L478.9,947.1 L479.6,945.7 L480.2,944.3 L480.7,942.9 L481.3,941.6 L481.9,940.2 L482.5,938.8 L483.1,937.4 L483.7,936.0 L484.3,934.6 L484.8,933.3 L485.4,931.9 L485.9,930.5 L486.5,929.1 L487.0,927.7 L487.6,926.3 L488.1,924.9 L488.6,923.5 L489.1,922.1 L489.6,920.6 L490.1,919.2 L490.6,917.8 L491.1,916.4 L491.6,915.0 L492.1,913.5 L492.5,912.1 L493.0,910.7 L493.5,909.3 L493.9,907.8 L494.4,906.4 L494.9,905.0 L495.3,903.5 L495.7,902.1 L496.2,900.7 L496.6,899.2 L497.0,897.8 L497.5,896.4 L497.9,894.9 L498.3,893.5 L498.7,892.0 L499.1,890.6 L499.5,889.1 L499.9,887.7 L500.3,886.2 L500.7,884.8 L501.1,883.4 L501.5,881.9 L501.9,880.5 L502.3,879.0 L502.7,877.6 L503.1,876.1 L503.5,874.7 L503.9,873.2 L504.3,871.8 L504.7,870.3 L505.1,868.9 L505.4,867.4 L505.8,866.0 L506.2,864.5 L506.6,863.1 L507.0,861.6 L507.3,860.2 L507.7,858.7 L508.1,857.3 L508.5,855.8 L508.9,854.4 L509.2,852.9 L509.6,851.5 L510.0,850.0 L510.4,848.5 L510.7,847.1 L511.1,845.6 L511.5,844.2 L511.8,842.7 L512.2,841.3 L512.5,839.8 L512.8,838.3 L513.2,836.9 L513.5,835.4 L513.8,833.9 L514.1,832.5 L514.4,831.0 L514.8,829.5 L515.1,828.1 L515.4,826.6 L515.7,825.1 L516.0,823.7 L516.3,822.2 L516.6,820.7 L516.9,819.3 L517.2,817.8 L517.5,816.3 L517.8,814.9 L518.2,813.4 L518.5,811.9 L518.8,810.5 L519.1,809.0 L519.4,807.5 L519.7,806.0 L520.0,804.6 L520.3,803.1 L520.6,801.6 L520.9,800.2 L521.2,798.7 L521.5,797.2 L521.8,795.8 L522.1,794.3 L522.4,792.8 L522.7,791.4 L523.0,789.9 L523.3,788.4 L523.6,786.9 L523.9,785.5 L524.2,784.0 L524.5,782.5 L524.9,781.1 L525.2,779.6 L525.5,778.1 L525.8,776.7 L526.1,775.2 L526.4,773.7 L526.7,772.2 L526.9,770.8 L527.2,769.3 L527.5,767.8 L527.8,766.3 L528.0,764.9 L528.3,763.4 L528.6,761.9 L528.9,760.4 L529.2,759.0 L529.5,757.5 L529.8,756.0 L530.1,754.6 L530.4,753.1 L530.8,751.6 L531.1,750.2 L531.5,748.7 L531.8,747.3 L532.2,745.8 L532.6,744.4 L532.9,742.9 L533.3,741.4 L533.7,740.0 L534.0,738.5 L534.4,737.1 L534.7,735.6 L535.0,734.2 L535.4,732.7 L535.7,731.2 L536.1,729.8 L536.4,728.3 L536.7,726.8 L537.1,725.4 L537.4,723.9 L537.7,722.5 L538.1,721.0 L538.4,719.5 L538.7,718.1 L539.1,716.6 L539.4,715.1 L539.8,713.7 L540.1,712.2 L540.4,710.8 L540.7,709.3 L541.1,707.8 L541.4,706.4 L541.7,704.9 L542.1,703.4 L542.4,702.0 L542.7,700.5 L543.1,699.0 L543.4,697.6 L543.7,696.1 L544.0,694.6 L544.4,693.2 L544.7,691.7 L545.0,690.3 L545.4,688.8 L545.7,687.3 L546.0,685.9 L546.4,684.4 L546.7,682.9 L547.0,681.5 L547.4,680.0 L547.7,678.5 L548.0,677.1 L548.4,675.6 L548.7,674.2 L549.0,672.7 L549.4,671.2 L549.7,669.8 L550.0,668.3 L550.4,666.8 L550.7,665.4 L551.0,663.9 L551.4,662.5 L551.7,661.0 L552.0,659.5 L552.4,658.1 L552.7,656.6 L553.0,655.1 L553.4,653.7 L553.7,652.2 L554.1,650.8 L554.4,649.3 L554.7,647.8 L555.0,646.4 L555.4,644.9 L555.7,643.4 L556.0,642.0 L556.4,640.5 L556.7,639.0 L557.0,637.6 L557.4,636.1 L557.7,634.7 L558.0,633.2 L558.3,631.7 L558.7,630.3 L559.0,628.8 L559.3,627.3 L559.7,625.9 L560.0,624.4 L560.4,623.0 L560.7,621.5 L561.0,620.0 L561.4,618.6 L561.8,617.1 L562.1,615.7 L562.5,614.2 L562.9,612.8 L563.2,611.3 L563.6,609.8 L564.0,608.4 L564.4,606.9 L564.7,605.5 L565.1,604.0 L565.5,602.6 L565.9,601.1 L566.3,599.7 L566.6,598.2 L567.0,596.8 L567.4,595.3 L567.8,593.9 L568.2,592.4 L568.6,591.0 L569.0,589.5 L569.4,588.1 L569.8,586.6 L570.2,585.2 L570.6,583.8 L571.0,582.3 L571.4,580.9 L571.8,579.4 L572.2,578.0 L572.6,576.5 L573.1,575.1 L573.5,573.7 L574.0,572.3 L574.5,570.8 L575.0,569.4 L575.5,568.0 L576.0,566.6 L576.6,565.2 L577.1,563.8 L577.6,562.4 L578.2,561.0 L578.7,559.6 L579.3,558.2 L579.9,556.9 L580.5,555.6 L581.2,554.3 L582.0,553.0 L582.9,551.7 L583.9,550.5 L585.0,549.3 L586.2,548.2 L587.5,547.4 L588.8,546.7 L590.2,546.3 L591.6,546.1 L593.1,546.3 L594.6,546.9 L595.9,547.8 L597.1,548.9 L598.2,550.0 L599.2,551.1 L600.1,552.3 L600.9,553.5 L601.7,554.8 L602.4,556.1 L603.0,557.5 L603.7,558.8 L604.3,560.2 L605.0,561.5 L605.6,562.9 L606.2,564.2 L606.8,565.6 L607.4,567.0 L608.0,568.4 L608.6,569.8 L609.1,571.2 L609.6,572.6 L610.2,574.0 L610.7,575.4 L611.3,576.8 L611.8,578.2 L612.3,579.6 L612.8,581.0 L613.3,582.4 L613.8,583.8 L614.3,585.3 L614.7,586.7 L615.1,588.1 L615.5,589.6 L615.9,591.0 L616.3,592.5 L616.7,593.9 L617.1,595.4 L617.5,596.8 L617.9,598.3 L618.3,599.7 L618.7,601.2 L619.1,602.6 L619.5,604.1 L619.9,605.5 L620.3,607.0 L620.7,608.4 L621.1,609.8 L621.5,611.3 L621.9,612.7 L622.3,614.2 L622.7,615.6 L623.1,617.1 L623.5,618.5 L623.9,620.0 L624.3,621.4 L624.7,622.8 L625.1,624.3 L625.5,625.7 L625.9,627.2 L626.3,628.6 L626.7,630.1 L627.2,631.5 L627.6,633.0 L628.0,634.4 L628.4,635.9 L628.8,637.3 L629.2,638.7 L629.6,640.2 L630.0,641.6 L630.4,643.1 L630.7,644.5 L631.1,646.0 L631.5,647.4 L631.9,648.9 L632.3,650.3 L632.7,651.8 L633.2,653.2 L633.6,654.7 L634.0,656.1 L634.4,657.5 L634.8,659.0 L635.3,660.4 L635.7,661.8 L636.2,663.3 L636.7,664.7 L637.1,666.1 L637.6,667.5 L638.1,669.0 L638.5,670.4 L639.0,671.8 L639.4,673.3 L639.9,674.7 L640.3,676.1 L640.7,677.6 L641.2,679.0 L641.6,680.4 L642.0,681.9 L642.4,683.3 L642.8,684.8 L643.3,686.2 L643.7,687.7 L644.1,689.1 L644.5,690.5 L644.9,692.0 L645.4,693.4 L645.8,694.9 L646.2,696.3 L646.7,697.7 L647.1,699.2 L647.5,700.6 L648.0,702.0 L648.5,703.4 L648.9,704.9 L649.4,706.3 L649.9,707.7 L650.4,709.1 L650.9,710.6 L651.3,712.0 L651.8,713.4 L652.3,714.8 L652.8,716.2 L653.3,717.7 L653.7,719.1 L654.2,720.5 L654.7,721.9 L655.1,723.4 L655.6,724.8 L656.1,726.2 L656.5,727.7 L657.0,729.1 L657.4,730.5 L657.9,731.9 L658.3,733.4 L658.8,734.8 L659.2,736.2 L659.7,737.7 L660.1,739.1 L660.6,740.5 L661.0,742.0 L661.5,743.4 L662.0,744.8 L662.5,746.2 L663.0,747.6 L663.5,749.1 L664.0,750.5 L664.5,751.9 L665.0,753.3 L665.5,754.7 L666.0,756.1 L666.6,757.5 L667.1,758.9 L667.7,760.3 L668.3,761.7 L668.9,763.1 L669.5,764.4 L670.1,765.8 L670.8,767.1 L671.4,768.5 L672.1,769.8 L672.8,771.2 L673.5,772.5 L674.2,773.8 L674.9,775.1 L675.6,776.5 L676.3,777.8 L677.1,779.1 L677.8,780.4 L678.5,781.7 L679.2,783.1 L679.9,784.4 L680.7,785.7 L681.4,787.0 L682.1,788.3 L682.9,789.6 L683.6,790.9 L684.3,792.2 L685.1,793.5 L685.7,794.9 L686.4,796.2 L686.9,797.6 L687.5,799.0 L688.1,800.4 L688.6,801.8 L689.3,803.2 L690.0,804.5 L690.6,805.8 L691.3,807.2 L692.1,808.5 L692.8,809.8 L693.5,811.1 L694.2,812.4 L695.0,813.7 L695.7,815.0 L696.5,816.3 L697.3,817.6 L698.0,818.9 L698.8,820.2 L699.6,821.4 L700.4,822.7 L701.1,824.0 L701.9,825.3 L702.7,826.6 L703.5,827.9 L704.2,829.2 L705.0,830.4 L705.8,831.7 L706.6,833.0 L707.3,834.3 L708.1,835.6 L708.9,836.9 L709.7,838.1 L710.5,839.4 L711.2,840.7 L712.0,842.0 L712.8,843.3 L713.7,844.5 L714.5,845.8 L715.3,847.0 L716.1,848.3 L717.0,849.5 L717.8,850.7 L718.7,852.0 L719.5,853.2 L720.4,854.5 L721.2,855.7 L722.1,856.9 L722.9,858.2 L723.8,859.4 L724.7,860.6 L725.6,861.8 L726.5,863.0 L727.4,864.2 L728.3,865.4 L729.2,866.6 L730.2,867.7 L731.1,868.9 L732.1,870.1 L733.0,871.2 L734.0,872.4 L734.9,873.6 L735.7,874.8 L736.6,876.1 L737.4,877.3 L738.3,878.6 L739.1,879.8 L740.1,881.0 L741.1,882.1 L742.1,883.1 L743.3,884.1 L744.4,885.1 L745.6,886.0 L746.8,887.0 L747.9,887.9 L749.1,888.9 L750.2,889.8 L751.4,890.8 L752.5,891.8 L753.7,892.7 L754.8,893.7 L756.0,894.7 L757.1,895.6 L758.3,896.6 L759.5,897.4 L760.8,898.3 L762.0,899.1 L763.3,899.9 L764.5,900.8 L765.7,901.7 L766.8,902.7 L768.0,903.6 L769.2,904.6 L770.3,905.5 L771.5,906.5 L772.6,907.5 L773.7,908.5 L774.9,909.4 L776.0,910.4 L777.1,911.4 L778.3,912.4 L779.4,913.4 L780.5,914.4 L781.6,915.4 L782.7,916.5 L783.8,917.5 L784.8,918.5 L785.9,919.6 L786.9,920.7 L788.0,921.8 L789.0,922.9 L790.0,924.0 L791.0,925.1 L792.0,926.2 L793.0,927.3 L794.0,928.5 L795.0,929.6 L796.0,930.7 L796.9,931.9 L797.9,933.0 L798.9,934.2 L799.9,935.3 L800.8,936.5 L801.8,937.6 L802.7,938.8 L803.7,939.9 L804.6,941.1 L805.6,942.2 L806.6,943.4 L807.5,944.6 L808.5,945.7 L809.4,946.9 L810.4,948.0 L811.4,949.1 L812.4,950.2 L813.4,951.4 L814.4,952.4 L815.5,953.5 L816.5,954.6 L817.6,955.6 L818.7,956.6 L819.8,957.7 L820.9,958.7 L822.1,959.7 L823.3,960.6 L824.6,961.5 L825.8,962.3 L827.2,963.0 L828.6,963.6 L830.0,964.1 L831.4,964.6 L832.8,965.0 L834.3,965.4 L835.7,965.8 L837.2,966.1 L838.7,966.5 L840.1,966.8 L841.6,967.2 L843.0,967.5 L844.5,967.8 L846.0,968.1 L847.4,968.4 L848.9,968.7 L850.4,969.0 L851.9,969.3 L853.3,969.6 L854.8,969.9 L856.3,970.2 L857.7,970.5 L859.2,970.8 L860.7,971.2 L862.1,971.6 L863.5,972.0 L864.9,972.6 L866.3,973.1 L867.7,973.7 L869.1,974.4 L870.4,975.2 L871.7,976.0 L873.0,976.9 L874.2,977.7 L875.4,978.6 L876.6,979.6 L877.7,980.5 L878.8,981.5 L879.9,982.5 L881.0,983.5 L882.1,984.6 L883.2,985.7 L884.2,986.7 L885.3,987.8 L886.3,988.8 L887.4,989.9 L888.5,991.0 L889.5,992.0 L890.6,993.1 L891.6,994.1 L892.7,995.2 L893.8,996.3 L894.8,997.3 L895.9,998.4 L897.0,999.4 L898.0,1000.5 L899.1,1001.6 L900.1,1002.6 L901.2,1003.7 L902.3,1004.7 L903.3,1005.8 L904.4,1006.8 L905.5,1007.9 L906.5,1009.0 L907.6,1010.0 L908.7,1011.1 L909.8,1012.1 L910.9,1013.1 L912.0,1014.1 L913.1,1015.1 L914.2,1016.1 L915.3,1017.1 L916.4,1018.1 L917.6,1019.1 L918.7,1020.1 L919.9,1021.1 L921.0,1022.0 L922.2,1022.9 L923.5,1023.8 L924.7,1024.6 L926.0,1025.3 L927.3,1026.1 L928.7,1026.8 L930.1,1027.4 L931.4,1028.0 L932.8,1028.6 L934.3,1029.1 L935.7,1029.6 L937.1,1030.0 L938.6,1030.3 L940.0,1030.6 L941.5,1030.9 L943.0,1031.0 L944.5,1031.2 L946.0,1031.3 L947.5,1031.4 L949.0,1031.6 L950.5,1031.9 L951.9,1032.3 L953.4,1032.6 L954.9,1032.9 L956.3,1033.3 L957.8,1033.7 L959.2,1034.1 L960.6,1034.6 L962.1,1035.1 L963.5,1035.6 L964.9,1036.1 L966.3,1036.6 L967.7,1037.1 L969.1,1037.6 L970.5,1038.0 L972.0,1038.5 L973.4,1038.9 L974.9,1039.3 L976.3,1039.7 L977.8,1040.1 L979.2,1040.5 L980.7,1040.8 L982.2,1041.0 L983.7,1041.2 L985.2,1041.3 L986.7,1041.3 L988.2,1041.2 L989.7,1041.1 L991.2,1040.9 L992.7,1040.6 L994.1,1040.2 L995.5,1039.7 L996.9,1038.9 L998.1,1038.0 L999.3,1037.0 L1000.5,1036.1 L1001.6,1035.1 L1002.7,1034.1 L1003.8,1033.2 L1005.0,1032.2 L1006.1,1031.2 L1007.2,1030.2 L1008.2,1029.1 L1009.3,1028.1 L1010.4,1027.1 L1011.5,1026.1 L1012.6,1025.0 L1013.8,1024.0 L1015.1,1023.1 L1016.6,1022.4 L1018.0,1021.9 L1019.5,1021.8 L1020.8,1022.0 L1022.2,1022.6 L1023.5,1023.4 L1024.8,1024.5 L1025.8,1025.7 L1026.6,1027.0 L1027.3,1028.3 L1028.1,1029.6 L1028.8,1030.9 L1029.5,1032.3 L1030.3,1033.6 L1031.0,1034.9 L1031.7,1036.2 L1032.4,1037.5 L1033.1,1038.8 L1033.8,1040.1 L1034.6,1041.5 L1035.3,1042.8 L1036.0,1044.1 L1036.7,1045.4 L1037.4,1046.7 L1038.1,1048.1 L1038.8,1049.4 L1039.6,1050.7 L1040.3,1052.0 L1041.1,1053.3 L1041.9,1054.5 L1042.8,1055.7 L1043.7,1056.9 L1044.7,1058.0 L1045.7,1059.2 L1046.7,1060.4 L1047.7,1061.5 L1048.7,1062.6 L1049.8,1063.6 L1050.9,1064.6 L1052.1,1065.5 L1053.3,1066.4 L1054.6,1067.2 L1055.9,1068.0 L1057.3,1068.8 L1058.7,1069.5 L1060.1,1070.0 L1061.5,1070.5 L1062.9,1070.8 L1064.4,1071.0 L1065.9,1071.0 L1067.4,1071.1 L1068.9,1071.1 L1070.4,1071.1 L1071.9,1071.0 L1073.4,1071.0 L1074.9,1071.0 L1076.4,1070.9 L1077.9,1070.9 L1079.4,1070.7 L1080.9,1070.6 L1082.4,1070.5 L1083.9,1070.5 L1085.4,1070.5 L1086.9,1070.5 L1088.4,1070.7 L1089.8,1071.2 L1091.2,1071.9 L1092.5,1072.7 L1093.8,1073.5 L1095.0,1074.3 L1096.3,1075.1 L1097.6,1075.9 L1098.8,1076.7 L1100.1,1077.5 L1101.4,1078.3 L1102.6,1079.1 L1103.9,1079.9 L1105.2,1080.6 L1106.6,1081.3 L1107.9,1082.0 L1109.3,1082.5 L1110.7,1083.0 L1112.2,1083.4 L1113.7,1083.8 L1115.1,1084.1 L1116.6,1084.4 L1118.1,1084.8 L1119.5,1085.1 L1121.0,1085.4 L1122.5,1085.7 L1123.9,1086.0 L1125.4,1086.3 L1126.9,1086.7 L1128.3,1087.0 L1129.8,1087.4 L1131.2,1087.7 L1132.7,1088.1 L1134.1,1088.4 L1135.6,1088.8 L1137.1,1089.1 L1138.5,1089.5 L1140.0,1089.7 L1141.5,1089.8 L1143.0,1089.9 L1144.5,1089.9 L1146.0,1089.8 L1147.5,1089.6 L1149.0,1089.4 L1150.5,1089.1 L1152.0,1088.9 L1153.5,1088.7 L1155.0,1088.6 L1156.5,1088.4 L1157.9,1088.3 L1159.4,1088.2 L1160.9,1088.0 L1162.4,1087.9 L1163.9,1087.9 L1165.4,1087.8 L1166.9,1087.9 L1168.4,1088.0 L1169.9,1088.2 L1171.4,1088.6 L1172.9,1089.0 L1174.3,1089.6 L1175.7,1090.3 L1177.0,1091.0 L1178.3,1091.7 L1179.6,1092.4 L1180.9,1093.1 L1182.3,1093.6 L1183.7,1094.3 L1185.1,1094.9 L1186.5,1095.4 L1187.9,1095.9 L1189.3,1096.3 L1190.8,1096.6 L1192.2,1097.0 L1193.7,1097.4 L1195.2,1097.7 L1196.6,1098.1 L1198.1,1098.4 L1199.5,1098.8 L1201.0,1099.2 L1202.4,1099.5 L1203.9,1099.9 L1205.3,1100.3 L1206.8,1100.6 L1208.2,1101.0 L1209.7,1101.5 L1211.1,1102.1 L1212.5,1102.7 L1214.0,1103.1 L1215.4,1103.3 L1216.9,1103.2 L1218.4,1103.1 L1219.9,1102.9 L1221.4,1102.6 L1222.9,1102.4 L1224.3,1102.2 L1225.8,1101.9 L1227.3,1101.7 L1228.8,1101.5 L1230.3,1101.4 L1231.8,1101.4 L1233.2,1101.7 L1234.7,1102.0 L1236.2,1102.4 L1237.6,1102.8 L1239.1,1103.2 L1240.6,1103.4 L1242.1,1103.7 L1243.6,1103.9 L1245.1,1104.1 L1246.5,1104.3 L1248.0,1104.5 L1249.5,1104.6 L1251.0,1104.5 L1252.5,1104.3 L1254.0,1103.9 L1255.4,1103.5 L1256.9,1103.3 L1258.4,1103.3 L1259.9,1103.3 L1261.4,1103.4 L1262.9,1103.6 L1264.4,1103.9 L1265.9,1104.3 L1267.2,1104.9 L1268.5,1105.7 L1269.8,1106.5 L1271.1,1107.2 L1272.5,1107.9 L1273.9,1108.4 L1275.4,1108.8 L1276.9,1109.2 L1278.4,1109.3 L1279.8,1109.1 L1281.3,1108.8 L1282.8,1108.5 L1284.2,1108.2 L1285.7,1107.8 L1287.2,1107.5 L1288.6,1107.2 L1290.1,1106.9 L1291.6,1106.6 L1293.1,1106.4 L1294.5,1106.3 L1296.0,1106.3 L1297.6,1106.3 L1299.1,1106.5 L1300.6,1106.7 L1302.1,1106.8 L1303.5,1107.0 L1305.0,1107.3 L1306.5,1107.5 L1308.0,1107.7 L1309.5,1108.0 L1311.0,1108.2 L1312.5,1108.4 L1313.9,1108.5 L1315.4,1108.7 L1316.9,1108.8 L1318.4,1108.9 L1319.9,1109.1 L1321.4,1109.2 L1322.9,1109.2 L1324.4,1109.3 L1325.9,1109.3 L1327.4,1109.3 L1328.9,1109.3 L1330.4,1109.3 L1331.9,1109.3 L1333.4,1109.3 L1334.9,1109.3 L1336.4,1109.3 L1337.9,1109.3 L1339.4,1109.3 L1340.9,1109.3 L1342.4,1109.3 L1343.9,1109.3 L1345.4,1109.3 L1346.9,1109.3 L1348.4,1109.4 L1349.9,1109.4 L1351.4,1109.4 L1352.9,1109.4 L1354.4,1109.4 L1355.9,1109.4 L1357.4,1109.4 L1358.9,1109.4 L1360.4,1109.4 L1361.9,1109.4 L1363.4,1109.4 L1364.9,1109.4 L1366.4,1109.4 L1367.9,1109.4 L1369.4,1109.4 L1370.9,1109.4 L1372.4,1109.4 L1373.9,1109.4 L1375.4,1109.4 L1376.9,1109.4 L1378.4,1109.4 L1379.9,1109.4 L1381.4,1109.4 L1382.9,1109.4 L1384.4,1109.4 L1385.9,1109.4 L1387.4,1109.4 L1388.9,1109.4 L1390.4,1109.4 L1391.9,1109.4 L1393.4,1109.4 L1395.0,1109.4 L1396.5,1109.4 L1398.0,1109.4 L1399.5,1109.4 L1401.0,1109.4 L1402.5,1109.4 L1404.0,1109.4 L1405.5,1109.4 L1407.0,1109.4 L1408.5,1109.4 L1410.0,1109.4 L1411.5,1109.4 L1413.0,1109.4 L1414.5,1109.4 L1416.0,1109.4 L1417.5,1109.4 L1419.0,1109.4 L1420.5,1109.4 L1422.0,1109.4 L1423.5,1109.4 L1425.0,1109.4 L1426.5,1109.4 L1428.0,1109.4 L1429.5,1109.4 L1431.0,1109.4 L1432.5,1109.4 L1434.0,1109.4 L1435.5,1109.4 L1437.0,1109.4 L1438.5,1109.4 L1440.0,1109.4 L1441.5,1109.4 L1443.0,1109.4 L1444.5,1109.4 L1446.0,1109.4 L1447.5,1109.4 L1449.0,1109.4 L1450.5,1109.4 L1452.0,1109.4 L1453.5,1109.4 L1455.0,1109.4 L1456.5,1109.4 L1458.0,1109.4 L1459.5,1109.4 L1461.0,1109.4 L1462.5,1109.4 L1464.0,1109.4 L1465.5,1109.4 L1467.0,1109.4 L1468.5,1109.4 L1470.0,1109.4 L1471.5,1109.4 L1473.0,1109.4 L1474.5,1109.4 L1476.0,1109.4 L1477.5,1109.4 L1479.0,1109.4 L1480.5,1109.4 L1482.0,1109.4 L1483.5,1109.4 L1485.0,1109.4 L1486.5,1109.4 L1488.0,1109.4 L1489.5,1109.4 L1491.0,1109.4 L1492.5,1109.4 L1494.0,1109.4 L1495.5,1109.4 L1497.0,1109.4 L1498.5,1109.4 L1500.0,1109.4 L1501.5,1109.4 L1503.0,1109.4 L1504.5,1109.4 L1506.0,1109.4 L1507.5,1109.4 L1509.0,1109.4 L1510.5,1109.4 L1512.0,1109.4 L1513.5,1109.4 L1515.0,1109.4 L1516.5,1109.4 L1518.0,1109.4 L1519.5,1109.4 L1521.0,1109.4 L1522.5,1109.4 L1524.0,1109.4 L1525.5,1109.4 L1527.0,1109.4 L1528.5,1109.4" fill="none" stroke="#FF0000" stroke-width="2.8" stroke-linejoin="round" stroke-linecap="butt"/>
<path d="M180.6,1102.5 L182.1,1102.4 L183.6,1102.4 L185.1,1102.3 L186.6,1102.2 L188.1,1102.2 L189.6,1102.1 L191.1,1102.0 L192.6,1101.9 L194.1,1101.9 L195.6,1101.8 L197.1,1101.7 L198.6,1101.6 L200.1,1101.5 L201.6,1101.4 L203.1,1101.4 L204.6,1101.3 L206.1,1101.2 L207.6,1101.1 L209.1,1101.0 L210.6,1100.9 L212.1,1100.8 L213.6,1100.7 L215.1,1100.6 L216.6,1100.5 L218.1,1100.4 L219.6,1100.3 L221.0,1100.2 L222.5,1100.1 L224.0,1100.0 L225.5,1099.9 L227.0,1099.8 L228.5,1099.7 L230.0,1099.6 L231.5,1099.5 L233.0,1099.4 L234.5,1099.2 L236.0,1099.1 L237.5,1099.0 L239.0,1098.9 L240.5,1098.8 L242.0,1098.7 L243.5,1098.5 L245.0,1098.4 L246.5,1098.3 L248.0,1098.1 L249.5,1098.0 L251.0,1097.9 L252.5,1097.7 L254.0,1097.6 L255.4,1097.5 L256.9,1097.3 L258.4,1097.2 L259.9,1097.0 L261.4,1096.9 L262.9,1096.7 L264.4,1096.6 L265.9,1096.4 L267.4,1096.2 L268.9,1096.1 L270.4,1095.9 L271.9,1095.7 L273.4,1095.6 L274.8,1095.4 L276.3,1095.2 L277.8,1095.0 L279.3,1094.9 L280.8,1094.7 L282.3,1094.5 L283.8,1094.3 L285.3,1094.1 L286.8,1093.9 L288.2,1093.7 L289.7,1093.5 L291.2,1093.3 L292.7,1093.0 L294.2,1092.8 L295.7,1092.6 L297.1,1092.3 L298.6,1092.1 L300.1,1091.8 L301.6,1091.5 L303.0,1091.3 L304.5,1091.0 L306.0,1090.7 L307.5,1090.4 L308.9,1090.2 L310.4,1089.9 L311.9,1089.6 L313.4,1089.3 L314.8,1089.0 L316.3,1088.7 L317.8,1088.4 L319.3,1088.1 L320.7,1087.7 L322.2,1087.4 L323.6,1087.1 L325.1,1086.8 L326.6,1086.4 L328.0,1086.1 L329.5,1085.7 L331.0,1085.4 L332.4,1085.0 L333.9,1084.7 L335.3,1084.3 L336.8,1084.0 L338.2,1083.6 L339.7,1083.2 L341.1,1082.9 L342.6,1082.5 L344.0,1082.1 L345.5,1081.7 L347.0,1081.3 L348.4,1080.9 L349.8,1080.5 L351.3,1080.1 L352.7,1079.7 L354.2,1079.3 L355.6,1078.9 L357.0,1078.4 L358.5,1078.0 L359.9,1077.5 L361.3,1077.1 L362.8,1076.6 L364.2,1076.2 L365.6,1075.7 L367.1,1075.2 L368.5,1074.8 L369.9,1074.3 L371.3,1073.8 L372.7,1073.3 L374.2,1072.8 L375.6,1072.3 L377.0,1071.8 L378.4,1071.2 L379.8,1070.7 L381.2,1070.1 L382.6,1069.6 L383.9,1069.0 L385.3,1068.4 L386.7,1067.8 L388.1,1067.2 L389.5,1066.6 L390.8,1066.0 L392.2,1065.4 L393.6,1064.8 L394.9,1064.1 L396.3,1063.4 L397.6,1062.7 L398.9,1062.0 L400.2,1061.2 L401.5,1060.5 L402.8,1059.7 L404.1,1059.0 L405.4,1058.2 L406.7,1057.5 L408.0,1056.8 L409.3,1056.1 L410.7,1055.5 L412.1,1055.0 L413.5,1054.5 L415.0,1054.0 L416.4,1053.6 L417.8,1053.1 L419.2,1052.6 L420.6,1052.0 L422.0,1051.3 L423.2,1050.5 L424.5,1049.6 L425.7,1048.7 L426.9,1047.8 L428.0,1046.8 L429.2,1045.8 L430.3,1044.8 L431.3,1043.8 L432.4,1042.7 L433.4,1041.6 L434.5,1040.5 L435.5,1039.4 L436.5,1038.3 L437.5,1037.2 L438.5,1036.0 L439.5,1034.9 L440.5,1033.8 L441.5,1032.7 L442.5,1031.5 L443.5,1030.4 L444.4,1029.3 L445.4,1028.1 L446.4,1026.9 L447.3,1025.8 L448.2,1024.6 L449.1,1023.4 L450.0,1022.2 L450.9,1020.9 L451.7,1019.7 L452.6,1018.5 L453.5,1017.3 L454.3,1016.0 L455.1,1014.8 L456.0,1013.5 L456.8,1012.3 L457.6,1011.0 L458.4,1009.7 L459.2,1008.5 L460.0,1007.2 L460.7,1005.9 L461.5,1004.6 L462.3,1003.3 L463.0,1002.0 L463.8,1000.7 L464.6,999.4 L465.3,998.1 L466.0,996.8 L466.8,995.5 L467.5,994.2 L468.2,992.9 L468.9,991.6 L469.7,990.3 L470.4,988.9 L471.1,987.6 L471.8,986.3 L472.4,984.9 L473.1,983.6 L473.8,982.3 L474.5,980.9 L475.2,979.6 L475.8,978.2 L476.5,976.9 L477.1,975.5 L477.8,974.2 L478.4,972.8 L479.1,971.5 L479.7,970.1 L480.4,968.8 L481.0,967.4 L481.6,966.1 L482.3,964.7 L482.9,963.3 L483.5,962.0 L484.1,960.6 L484.7,959.2 L485.3,957.8 L485.9,956.5 L486.5,955.1 L487.1,953.7 L487.6,952.3 L488.2,950.9 L488.8,949.5 L489.3,948.1 L489.9,946.7 L490.4,945.3 L490.9,943.9 L491.5,942.5 L492.0,941.1 L492.5,939.7 L493.0,938.3 L493.5,936.9 L494.0,935.5 L494.5,934.0 L495.0,932.6 L495.5,931.2 L495.9,929.8 L496.4,928.3 L496.8,926.9 L497.2,925.5 L497.7,924.0 L498.1,922.6 L498.5,921.1 L498.9,919.7 L499.3,918.2 L499.7,916.8 L500.1,915.3 L500.5,913.9 L500.9,912.5 L501.3,911.0 L501.7,909.6 L502.1,908.1 L502.5,906.7 L502.9,905.2 L503.2,903.8 L503.6,902.3 L504.0,900.9 L504.4,899.4 L504.8,898.0 L505.1,896.5 L505.5,895.0 L505.9,893.6 L506.3,892.1 L506.6,890.7 L507.0,889.2 L507.4,887.8 L507.8,886.3 L508.2,884.9 L508.5,883.4 L508.9,882.0 L509.3,880.5 L509.6,879.1 L510.0,877.6 L510.3,876.2 L510.7,874.7 L511.1,873.2 L511.4,871.8 L511.7,870.3 L512.1,868.9 L512.4,867.4 L512.7,865.9 L513.0,864.5 L513.4,863.0 L513.7,861.5 L514.0,860.1 L514.3,858.6 L514.6,857.1 L514.9,855.6 L515.2,854.2 L515.5,852.7 L515.8,851.2 L516.1,849.8 L516.4,848.3 L516.7,846.8 L517.0,845.4 L517.3,843.9 L517.6,842.4 L517.9,840.9 L518.2,839.5 L518.5,838.0 L518.8,836.5 L519.1,835.1 L519.4,833.6 L519.7,832.1 L520.0,830.6 L520.3,829.2 L520.6,827.7 L520.8,826.2 L521.1,824.8 L521.4,823.3 L521.7,821.8 L522.0,820.3 L522.3,818.9 L522.6,817.4 L522.9,815.9 L523.2,814.5 L523.5,813.0 L523.7,811.5 L524.0,810.0 L524.3,808.6 L524.5,807.1 L524.8,805.6 L525.1,804.1 L525.3,802.6 L525.6,801.2 L525.8,799.7 L526.1,798.2 L526.3,796.7 L526.5,795.2 L526.8,793.8 L527.0,792.3 L527.3,790.8 L527.5,789.3 L527.8,787.8 L528.0,786.4 L528.3,784.9 L528.5,783.4 L528.7,781.9 L529.0,780.4 L529.2,779.0 L529.5,777.5 L529.7,776.0 L530.0,774.5 L530.2,773.0 L530.5,771.6 L530.7,770.1 L531.0,768.6 L531.2,767.1 L531.5,765.6 L531.8,764.2 L532.0,762.7 L532.3,761.2 L532.5,759.7 L532.8,758.3 L533.0,756.8 L533.3,755.3 L533.5,753.8 L533.7,752.3 L534.0,750.9 L534.2,749.4 L534.4,747.9 L534.7,746.4 L534.9,744.9 L535.1,743.4 L535.4,742.0 L535.6,740.5 L535.8,739.0 L536.0,737.5 L536.3,736.0 L536.5,734.5 L536.7,733.1 L536.9,731.6 L537.2,730.1 L537.4,728.6 L537.6,727.1 L537.8,725.6 L538.0,724.2 L538.3,722.7 L538.5,721.2 L538.7,719.7 L538.9,718.2 L539.2,716.7 L539.4,715.2 L539.6,713.8 L539.8,712.3 L540.0,710.8 L540.2,709.3 L540.4,707.8 L540.6,706.3 L540.9,704.8 L541.1,703.4 L541.3,701.9 L541.5,700.4 L541.7,698.9 L541.9,697.4 L542.1,695.9 L542.3,694.4 L542.5,693.0 L542.7,691.5 L543.0,690.0 L543.2,688.5 L543.4,687.0 L543.6,685.5 L543.8,684.1 L544.1,682.6 L544.3,681.1 L544.5,679.6 L544.8,678.1 L545.0,676.6 L545.2,675.2 L545.5,673.7 L545.7,672.2 L546.0,670.7 L546.2,669.2 L546.5,667.8 L546.7,666.3 L547.0,664.8 L547.2,663.3 L547.5,661.8 L547.7,660.4 L548.0,658.9 L548.2,657.4 L548.5,655.9 L548.7,654.4 L549.0,653.0 L549.2,651.5 L549.5,650.0 L549.7,648.5 L550.0,647.1 L550.2,645.6 L550.5,644.1 L550.7,642.6 L551.0,641.1 L551.2,639.7 L551.5,638.2 L551.7,636.7 L552.0,635.2 L552.2,633.7 L552.5,632.3 L552.7,630.8 L552.9,629.3 L553.2,627.8 L553.4,626.3 L553.7,624.8 L553.9,623.4 L554.2,621.9 L554.4,620.4 L554.6,618.9 L554.9,617.4 L555.1,616.0 L555.4,614.5 L555.6,613.0 L555.9,611.5 L556.1,610.0 L556.4,608.6 L556.6,607.1 L556.9,605.6 L557.1,604.1 L557.4,602.6 L557.6,601.2 L557.9,599.7 L558.1,598.2 L558.4,596.7 L558.6,595.3 L558.9,593.8 L559.2,592.3 L559.4,590.8 L559.7,589.3 L560.0,587.9 L560.2,586.4 L560.5,584.9 L560.8,583.4 L561.0,582.0 L561.3,580.5 L561.6,579.0 L561.9,577.5 L562.1,576.1 L562.4,574.6 L562.7,573.1 L563.0,571.6 L563.2,570.2 L563.5,568.7 L563.8,567.2 L564.0,565.7 L564.3,564.3 L564.6,562.8 L564.9,561.3 L565.1,559.8 L565.4,558.4 L565.7,556.9 L566.0,555.4 L566.2,553.9 L566.5,552.5 L566.8,551.0 L567.1,549.5 L567.3,548.0 L567.6,546.6 L567.9,545.1 L568.2,543.6 L568.5,542.1 L568.8,540.7 L569.1,539.2 L569.3,537.7 L569.6,536.3 L569.9,534.8 L570.2,533.3 L570.5,531.8 L570.9,530.4 L571.2,528.9 L571.5,527.5 L571.9,526.0 L572.3,524.5 L572.6,523.1 L573.0,521.6 L573.4,520.2 L573.8,518.7 L574.1,517.3 L574.5,515.8 L574.9,514.4 L575.3,512.9 L575.7,511.5 L576.1,510.0 L576.5,508.6 L576.8,507.1 L577.3,505.7 L577.7,504.2 L578.1,502.8 L578.5,501.4 L579.0,499.9 L579.4,498.5 L579.8,497.1 L580.3,495.6 L580.7,494.2 L581.2,492.8 L581.7,491.3 L582.1,489.9 L582.6,488.5 L583.0,487.1 L583.5,485.6 L584.0,484.3 L584.5,482.9 L585.0,481.5 L585.6,480.2 L586.3,478.9 L587.1,477.6 L588.0,476.3 L589.1,475.0 L590.3,473.8 L591.6,472.8 L592.9,472.1 L594.3,471.5 L595.7,471.2 L597.1,471.2 L598.5,471.5 L599.9,472.0 L601.3,472.9 L602.6,473.9 L603.8,475.0 L604.9,476.2 L605.9,477.3 L606.8,478.5 L607.6,479.7 L608.4,480.9 L609.1,482.2 L609.8,483.5 L610.5,484.9 L611.2,486.2 L611.9,487.5 L612.6,488.9 L613.2,490.2 L613.9,491.6 L614.5,492.9 L615.1,494.3 L615.7,495.7 L616.3,497.0 L616.9,498.4 L617.4,499.8 L617.9,501.3 L618.4,502.7 L618.9,504.1 L619.4,505.5 L619.8,506.9 L620.3,508.3 L620.8,509.8 L621.3,511.2 L621.8,512.6 L622.3,514.0 L622.7,515.5 L623.2,516.9 L623.6,518.3 L624.1,519.7 L624.5,521.2 L625.0,522.6 L625.4,524.1 L625.8,525.5 L626.3,526.9 L626.7,528.4 L627.1,529.8 L627.6,531.2 L628.0,532.7 L628.4,534.1 L628.8,535.6 L629.3,537.0 L629.7,538.4 L630.1,539.9 L630.6,541.3 L631.0,542.7 L631.4,544.2 L631.9,545.6 L632.3,547.0 L632.7,548.5 L633.2,549.9 L633.6,551.4 L634.0,552.8 L634.5,554.2 L634.9,555.7 L635.3,557.1 L635.7,558.5 L636.2,560.0 L636.6,561.4 L637.0,562.9 L637.5,564.3 L637.9,565.7 L638.3,567.2 L638.8,568.6 L639.2,570.0 L639.6,571.5 L640.1,572.9 L640.5,574.4 L640.9,575.8 L641.3,577.2 L641.8,578.7 L642.2,580.1 L642.6,581.5 L643.0,583.0 L643.5,584.4 L643.9,585.9 L644.3,587.3 L644.7,588.7 L645.2,590.2 L645.6,591.6 L646.0,593.1 L646.4,594.5 L646.9,595.9 L647.3,597.4 L647.7,598.8 L648.2,600.3 L648.6,601.7 L649.0,603.1 L649.4,604.6 L649.9,606.0 L650.3,607.4 L650.7,608.9 L651.2,610.3 L651.6,611.7 L652.0,613.2 L652.5,614.6 L652.9,616.1 L653.3,617.5 L653.8,618.9 L654.2,620.4 L654.6,621.8 L655.1,623.2 L655.5,624.7 L655.9,626.1 L656.3,627.6 L656.8,629.0 L657.2,630.4 L657.6,631.9 L658.1,633.3 L658.5,634.7 L658.9,636.2 L659.4,637.6 L659.8,639.1 L660.2,640.5 L660.7,641.9 L661.1,643.4 L661.5,644.8 L662.0,646.2 L662.4,647.7 L662.9,649.1 L663.3,650.5 L663.7,652.0 L664.2,653.4 L664.6,654.8 L665.1,656.3 L665.5,657.7 L666.0,659.1 L666.5,660.6 L666.9,662.0 L667.4,663.4 L667.8,664.8 L668.3,666.3 L668.7,667.7 L669.2,669.1 L669.6,670.6 L670.1,672.0 L670.5,673.4 L671.0,674.9 L671.4,676.3 L671.9,677.7 L672.3,679.1 L672.8,680.6 L673.2,682.0 L673.7,683.4 L674.1,684.9 L674.6,686.3 L675.1,687.7 L675.5,689.2 L676.0,690.6 L676.4,692.0 L676.9,693.5 L677.3,694.9 L677.8,696.3 L678.2,697.7 L678.7,699.2 L679.2,700.6 L679.7,702.0 L680.1,703.4 L680.6,704.9 L681.1,706.3 L681.6,707.7 L682.1,709.1 L682.5,710.5 L683.0,712.0 L683.5,713.4 L684.0,714.8 L684.4,716.2 L684.9,717.7 L685.4,719.1 L685.9,720.5 L686.3,721.9 L686.8,723.4 L687.2,724.8 L687.7,726.2 L688.1,727.6 L688.6,729.1 L689.1,730.5 L689.5,731.9 L690.0,733.4 L690.5,734.8 L690.9,736.2 L691.4,737.6 L691.9,739.1 L692.4,740.5 L692.9,741.9 L693.4,743.3 L694.0,744.7 L694.6,746.0 L695.3,747.4 L695.9,748.8 L696.6,750.1 L697.2,751.5 L697.9,752.8 L698.6,754.1 L699.2,755.5 L699.9,756.8 L700.6,758.2 L701.3,759.5 L701.9,760.9 L702.6,762.2 L703.3,763.5 L703.9,764.9 L704.6,766.2 L705.3,767.6 L706.0,768.9 L706.6,770.2 L707.3,771.6 L708.0,772.9 L708.6,774.3 L709.3,775.6 L709.9,777.0 L710.6,778.3 L711.3,779.7 L711.9,781.0 L712.6,782.3 L713.3,783.7 L714.0,785.0 L714.7,786.4 L715.4,787.7 L716.1,789.0 L716.8,790.3 L717.5,791.6 L718.2,792.9 L719.0,794.3 L719.7,795.6 L720.5,796.9 L721.2,798.2 L721.9,799.5 L722.7,800.8 L723.4,802.1 L724.1,803.4 L724.9,804.7 L725.6,806.0 L726.4,807.3 L727.1,808.6 L727.8,809.9 L728.6,811.2 L729.3,812.5 L730.1,813.8 L730.9,815.1 L731.6,816.4 L732.4,817.7 L733.2,819.0 L733.9,820.3 L734.7,821.5 L735.5,822.8 L736.3,824.1 L737.1,825.4 L737.9,826.6 L738.7,827.9 L739.5,829.2 L740.3,830.5 L741.1,831.7 L741.9,833.0 L742.7,834.3 L743.5,835.5 L744.3,836.8 L745.1,838.1 L745.9,839.3 L746.7,840.6 L747.5,841.9 L748.3,843.2 L749.1,844.4 L749.9,845.7 L750.7,846.9 L751.5,848.2 L752.3,849.5 L753.2,850.7 L754.0,852.0 L754.8,853.2 L755.7,854.5 L756.5,855.7 L757.3,856.9 L758.2,858.2 L759.0,859.4 L759.9,860.7 L760.7,861.9 L761.5,863.2 L762.3,864.4 L763.2,865.7 L764.0,866.9 L764.8,868.2 L765.6,869.4 L766.5,870.7 L767.3,871.9 L768.1,873.2 L769.0,874.4 L769.9,875.6 L770.8,876.8 L771.8,878.0 L772.7,879.1 L773.7,880.3 L774.7,881.4 L775.7,882.5 L776.7,883.6 L777.8,884.7 L778.9,885.7 L780.0,886.7 L781.1,887.7 L782.2,888.7 L783.4,889.7 L784.5,890.7 L785.7,891.6 L786.9,892.5 L788.1,893.4 L789.3,894.3 L790.5,895.2 L791.8,896.0 L793.0,896.8 L794.3,897.6 L795.6,898.4 L796.9,899.1 L798.2,899.9 L799.5,900.6 L800.8,901.4 L802.1,902.1 L803.4,902.9 L804.7,903.7 L805.9,904.5 L807.2,905.3 L808.5,906.1 L809.7,906.9 L811.0,907.8 L812.2,908.6 L813.4,909.5 L814.6,910.4 L815.8,911.3 L817.0,912.2 L818.1,913.2 L819.2,914.2 L820.3,915.3 L821.4,916.4 L822.4,917.5 L823.4,918.6 L824.4,919.7 L825.4,920.9 L826.3,922.0 L827.3,923.2 L828.2,924.4 L829.1,925.5 L830.0,926.7 L830.9,927.9 L831.8,929.1 L832.7,930.3 L833.6,931.6 L834.5,932.8 L835.4,934.0 L836.2,935.2 L837.1,936.4 L838.0,937.7 L838.8,938.9 L839.7,940.1 L840.5,941.3 L841.4,942.6 L842.3,943.8 L843.2,945.0 L844.0,946.2 L844.9,947.4 L845.8,948.6 L846.7,949.8 L847.7,951.0 L848.6,952.2 L849.5,953.3 L850.5,954.5 L851.4,955.6 L852.4,956.8 L853.4,957.9 L854.4,959.1 L855.4,960.2 L856.4,961.3 L857.4,962.4 L858.5,963.5 L859.6,964.5 L860.7,965.5 L861.9,966.4 L863.1,967.3 L864.3,968.1 L865.6,968.9 L866.9,969.6 L868.3,970.3 L869.7,971.0 L871.1,971.6 L872.6,972.2 L874.0,972.7 L875.5,973.1 L876.9,973.4 L878.4,973.7 L879.9,973.9 L881.4,974.0 L882.8,974.1 L884.3,974.1 L885.8,974.0 L887.3,973.8 L888.8,973.6 L890.3,973.4 L891.8,973.2 L893.3,973.1 L894.8,973.1 L896.3,973.2 L897.8,973.2 L899.3,973.4 L900.8,973.6 L902.2,973.9 L903.7,974.4 L905.1,975.0 L906.5,975.7 L907.9,976.5 L909.1,977.3 L910.3,978.2 L911.5,979.1 L912.6,980.1 L913.7,981.1 L914.7,982.2 L915.8,983.3 L916.8,984.5 L917.8,985.6 L918.7,986.7 L919.7,987.9 L920.7,989.0 L921.7,990.1 L922.6,991.3 L923.6,992.4 L924.7,993.5 L925.7,994.5 L926.8,995.6 L927.8,996.7 L928.8,997.8 L929.9,998.8 L931.0,999.9 L932.0,1001.0 L933.1,1002.0 L934.2,1003.0 L935.3,1004.1 L936.4,1005.1 L937.5,1006.1 L938.7,1007.1 L939.8,1008.0 L940.9,1009.0 L942.1,1010.0 L943.2,1011.0 L944.4,1011.9 L945.5,1012.9 L946.7,1013.8 L947.8,1014.8 L949.0,1015.7 L950.2,1016.6 L951.4,1017.6 L952.6,1018.5 L953.7,1019.4 L954.9,1020.4 L956.1,1021.3 L957.2,1022.3 L958.4,1023.2 L959.5,1024.2 L960.5,1025.3 L961.6,1026.3 L962.6,1027.4 L963.7,1028.5 L964.7,1029.6 L965.7,1030.7 L966.8,1031.8 L967.8,1032.9 L968.9,1033.9 L970.0,1035.0 L971.1,1036.0 L972.2,1037.1 L973.4,1038.1 L974.6,1039.0 L975.8,1039.9 L977.1,1040.7 L978.4,1041.3 L979.8,1041.8 L981.3,1042.2 L982.8,1042.5 L984.3,1042.8 L985.7,1043.0 L987.2,1043.2 L988.7,1043.4 L990.2,1043.7 L991.7,1043.9 L993.2,1044.0 L994.7,1044.2 L996.2,1044.4 L997.6,1044.5 L999.1,1044.7 L1000.6,1045.0 L1002.1,1045.3 L1003.5,1045.6 L1005.0,1046.0 L1006.4,1046.4 L1007.9,1046.9 L1009.3,1047.3 L1010.7,1047.8 L1012.1,1048.3 L1013.6,1048.7 L1015.0,1049.2 L1016.5,1049.6 L1017.9,1049.9 L1019.4,1050.3 L1020.8,1050.6 L1022.3,1051.0 L1023.7,1051.3 L1025.2,1051.7 L1026.6,1052.1 L1028.1,1052.6 L1029.4,1053.2 L1030.7,1053.9 L1032.0,1054.7 L1033.2,1055.5 L1034.4,1056.4 L1035.7,1057.3 L1036.9,1058.2 L1038.2,1059.0 L1039.6,1059.7 L1041.0,1060.3 L1042.4,1060.9 L1043.8,1061.4 L1045.2,1061.8 L1046.7,1062.2 L1048.1,1062.5 L1049.6,1062.8 L1051.1,1062.9 L1052.6,1062.8 L1054.1,1062.7 L1055.6,1062.4 L1057.1,1062.1 L1058.6,1061.9 L1060.1,1061.7 L1061.6,1061.7 L1063.1,1061.9 L1064.5,1062.2 L1066.0,1062.6 L1067.4,1063.0 L1068.8,1063.5 L1070.3,1064.0 L1071.7,1064.6 L1073.1,1065.2 L1074.4,1065.9 L1075.6,1066.8 L1076.9,1067.7 L1078.1,1068.6 L1079.3,1069.4 L1080.6,1070.2 L1081.9,1070.9 L1083.3,1071.3 L1084.9,1071.5 L1086.4,1071.3 L1087.8,1070.7 L1089.2,1070.0 L1090.4,1069.1 L1091.4,1068.0 L1092.4,1066.9 L1093.3,1065.7 L1094.3,1064.5 L1095.2,1063.4 L1096.1,1062.2 L1097.1,1061.1 L1098.0,1059.9 L1098.9,1058.8 L1099.9,1057.7 L1100.8,1056.6 L1101.9,1055.5 L1103.0,1054.4 L1104.2,1053.3 L1105.5,1052.4 L1106.9,1051.7 L1108.4,1051.3 L1109.8,1051.2 L1111.2,1051.4 L1112.6,1051.8 L1114.0,1052.6 L1115.3,1053.8 L1116.4,1054.9 L1117.3,1056.1 L1118.1,1057.3 L1118.9,1058.6 L1119.6,1059.8 L1120.3,1061.1 L1121.0,1062.4 L1121.7,1063.8 L1122.4,1065.1 L1123.1,1066.4 L1123.8,1067.8 L1124.4,1069.1 L1125.1,1070.5 L1125.8,1071.8 L1126.6,1073.1 L1127.4,1074.4 L1128.2,1075.6 L1129.0,1076.9 L1129.9,1078.1 L1130.8,1079.3 L1131.7,1080.4 L1132.8,1081.6 L1133.9,1082.6 L1135.0,1083.6 L1136.2,1084.6 L1137.4,1085.4 L1138.7,1086.2 L1140.0,1086.9 L1141.4,1087.6 L1142.8,1088.2 L1144.1,1088.8 L1145.5,1089.4 L1146.9,1090.0 L1148.3,1090.5 L1149.7,1091.1 L1151.1,1091.6 L1152.5,1092.2 L1153.9,1092.7 L1155.3,1093.2 L1156.7,1093.6 L1158.2,1094.1 L1159.6,1094.5 L1161.1,1094.8 L1162.6,1094.9 L1164.1,1094.9 L1165.6,1094.7 L1167.1,1094.6 L1168.6,1094.4 L1170.1,1094.3 L1171.6,1094.4 L1173.1,1094.7 L1174.6,1095.0 L1176.0,1095.4 L1177.5,1095.7 L1178.9,1096.1 L1180.4,1096.5 L1181.8,1096.8 L1183.3,1097.2 L1184.8,1097.5 L1186.2,1097.9 L1187.7,1098.2 L1189.1,1098.5 L1190.6,1098.8 L1192.1,1099.1 L1193.5,1099.4 L1195.0,1099.7 L1196.5,1100.0 L1198.0,1100.3 L1199.4,1100.6 L1200.9,1100.9 L1202.4,1101.2 L1203.9,1101.5 L1205.4,1101.8 L1206.8,1102.0 L1208.3,1102.2 L1209.8,1102.4 L1211.3,1102.5 L1212.8,1102.4 L1214.2,1102.1 L1215.7,1101.7 L1217.2,1101.3 L1218.6,1100.9 L1220.1,1100.8 L1221.6,1100.6 L1223.1,1100.5 L1224.6,1100.4 L1226.1,1100.4 L1227.6,1100.4 L1229.1,1100.6 L1230.6,1100.7 L1232.1,1100.9 L1233.6,1101.1 L1235.1,1101.3 L1236.6,1101.4 L1238.1,1101.5 L1239.6,1101.4 L1241.1,1101.4 L1242.6,1101.4 L1244.1,1101.3 L1245.6,1101.3 L1247.1,1101.3 L1248.6,1101.4 L1250.1,1101.5 L1251.5,1101.7 L1253.0,1102.1 L1254.5,1102.4 L1255.9,1102.8 L1257.4,1103.1 L1258.9,1103.3 L1260.4,1103.5 L1261.9,1103.6 L1263.4,1103.8 L1264.9,1103.9 L1266.4,1104.0 L1267.9,1104.1 L1269.4,1104.1 L1270.9,1104.1 L1272.4,1104.0 L1273.9,1103.9 L1275.3,1103.7 L1276.8,1103.6 L1278.3,1103.5 L1279.8,1103.3 L1281.3,1103.3 L1282.8,1103.3 L1284.3,1103.4 L1285.8,1103.6 L1287.3,1103.7 L1288.8,1103.9 L1290.3,1104.0 L1291.8,1104.1 L1293.3,1104.1 L1294.8,1104.0 L1296.3,1103.8 L1297.8,1103.6 L1299.3,1103.3 L1300.7,1103.0 L1302.2,1102.7 L1303.7,1102.5 L1305.2,1102.4 L1306.7,1102.3 L1308.2,1102.3 L1309.7,1102.2 L1311.2,1102.2 L1312.7,1102.1 L1314.2,1102.0 L1315.7,1102.0 L1317.2,1101.9 L1318.7,1101.9 L1320.2,1101.8 L1321.7,1101.8 L1323.2,1101.7 L1324.7,1101.7 L1326.2,1101.6 L1327.7,1101.6 L1329.2,1101.5 L1330.7,1101.2 L1332.1,1101.0 L1333.6,1100.7 L1335.1,1100.4 L1336.6,1100.2 L1338.1,1100.1 L1339.6,1100.1 L1341.1,1100.2 L1342.5,1100.4 L1344.0,1100.6 L1345.5,1100.9 L1347.0,1101.2 L1348.5,1101.5 L1350.0,1101.8 L1351.4,1102.2 L1352.9,1102.7 L1354.3,1103.2 L1355.7,1103.6 L1357.2,1104.0 L1358.6,1104.3 L1360.1,1104.3 L1361.6,1104.2 L1363.1,1103.8 L1364.5,1103.2 L1365.9,1102.5 L1367.1,1101.7 L1368.3,1100.8 L1369.6,1100.0 L1370.9,1099.3 L1372.3,1098.5 L1373.7,1097.8 L1375.0,1097.2 L1376.5,1096.7 L1377.9,1096.6 L1379.4,1096.7 L1380.9,1096.9 L1382.4,1097.1 L1383.9,1097.3 L1385.4,1097.4 L1386.9,1097.6 L1388.4,1097.7 L1389.9,1097.8 L1391.3,1097.5 L1392.5,1096.7 L1393.7,1095.6 L1395.1,1094.9 L1396.5,1094.3 L1397.9,1093.9 L1399.4,1093.6 L1400.9,1093.5 L1402.3,1093.6 L1403.8,1093.9 L1405.3,1094.2 L1406.8,1094.6 L1408.2,1095.1 L1409.6,1095.7 L1411.0,1096.3 L1412.3,1096.9 L1413.7,1097.5 L1415.2,1098.0 L1416.6,1098.4 L1418.1,1098.7 L1419.6,1098.9 L1421.1,1099.0 L1422.6,1098.9 L1424.0,1098.6 L1425.5,1098.2 L1426.9,1097.7 L1428.4,1097.3 L1429.8,1096.9 L1431.3,1096.6 L1432.8,1096.3 L1434.3,1096.1 L1435.8,1095.9 L1437.3,1095.8 L1438.7,1095.9 L1440.2,1096.2 L1441.7,1096.6 L1443.1,1097.0 L1444.6,1097.2 L1446.1,1097.4 L1447.6,1097.4 L1449.1,1097.5 L1450.6,1097.6 L1452.1,1097.7 L1453.6,1097.8 L1455.1,1097.8 L1456.6,1098.0 L1458.1,1098.1 L1459.6,1098.3 L1461.1,1098.4 L1462.6,1098.5 L1464.1,1098.5 L1465.5,1098.1 L1466.9,1097.5 L1468.3,1096.8 L1469.7,1096.3 L1471.2,1095.9 L1472.6,1095.4 L1474.1,1095.1 L1475.6,1095.0 L1477.0,1095.1 L1478.5,1095.4 L1480.0,1095.7 L1481.4,1096.1 L1482.9,1096.5 L1484.4,1096.9 L1485.8,1097.3 L1487.2,1097.8 L1488.7,1098.2 L1490.1,1098.6 L1491.6,1099.0 L1493.0,1099.4 L1494.6,1099.7 L1496.0,1099.8 L1497.5,1099.5 L1499.0,1099.2 L1500.4,1098.8 L1501.9,1098.4 L1503.3,1098.1 L1504.8,1097.7 L1506.3,1097.4 L1507.7,1097.0 L1509.2,1096.7 L1510.6,1096.5 L1512.1,1096.8 L1513.6,1097.3 L1515.1,1097.7 L1516.5,1097.9 L1518.0,1098.1 L1519.5,1098.3 L1521.0,1098.4 L1522.5,1098.4 L1524.0,1098.4 L1525.5,1098.2 L1527.0,1098.0 L1528.5,1097.8" fill="none" stroke="#0000FF" stroke-width="2.8" stroke-linejoin="round" stroke-linecap="butt"/>
<path d="M191.0,1102.2 L192.5,1102.1 L194.0,1102.0 L195.5,1101.8 L197.0,1101.7 L198.5,1101.6 L200.0,1101.5 L201.5,1101.3 L203.0,1101.2 L204.5,1101.1 L206.0,1100.9 L207.4,1100.8 L208.9,1100.7 L210.4,1100.5 L211.9,1100.4 L213.4,1100.2 L214.9,1100.1 L216.4,1099.9 L217.9,1099.8 L219.4,1099.7 L220.9,1099.5 L222.4,1099.4 L223.9,1099.2 L225.4,1099.1 L226.9,1098.9 L228.4,1098.7 L229.9,1098.6 L231.3,1098.4 L232.8,1098.3 L234.3,1098.1 L235.8,1098.0 L237.3,1097.8 L238.8,1097.7 L240.3,1097.5 L241.8,1097.3 L243.3,1097.2 L244.8,1097.0 L246.3,1096.8 L247.8,1096.7 L249.2,1096.5 L250.7,1096.3 L252.2,1096.1 L253.7,1096.0 L255.2,1095.8 L256.7,1095.6 L258.2,1095.4 L259.7,1095.2 L261.2,1095.0 L262.6,1094.8 L264.1,1094.6 L265.6,1094.4 L267.1,1094.2 L268.6,1094.0 L270.1,1093.8 L271.6,1093.6 L273.1,1093.4 L274.5,1093.2 L276.0,1093.0 L277.5,1092.8 L279.0,1092.6 L280.5,1092.4 L282.0,1092.1 L283.5,1091.9 L284.9,1091.7 L286.4,1091.4 L287.9,1091.2 L289.4,1090.9 L290.9,1090.7 L292.3,1090.4 L293.8,1090.1 L295.3,1089.9 L296.8,1089.6 L298.2,1089.3 L299.7,1089.0 L301.2,1088.7 L302.6,1088.3 L304.1,1088.0 L305.6,1087.7 L307.0,1087.3 L308.5,1087.0 L310.0,1086.6 L311.4,1086.3 L312.9,1085.9 L314.3,1085.5 L315.8,1085.2 L317.2,1084.8 L318.7,1084.4 L320.1,1084.0 L321.6,1083.6 L323.0,1083.2 L324.5,1082.8 L325.9,1082.4 L327.4,1082.0 L328.8,1081.6 L330.3,1081.2 L331.7,1080.8 L333.2,1080.4 L334.6,1080.0 L336.0,1079.6 L337.5,1079.2 L338.9,1078.8 L340.4,1078.4 L341.8,1078.0 L343.3,1077.6 L344.7,1077.1 L346.1,1076.7 L347.6,1076.3 L349.0,1075.9 L350.5,1075.5 L351.9,1075.0 L353.3,1074.6 L354.8,1074.2 L356.2,1073.8 L357.7,1073.3 L359.1,1072.9 L360.5,1072.5 L362.0,1072.0 L363.4,1071.6 L364.8,1071.2 L366.3,1070.7 L367.7,1070.3 L369.1,1069.9 L370.6,1069.4 L372.0,1068.9 L373.4,1068.5 L374.9,1068.0 L376.3,1067.5 L377.7,1067.0 L379.1,1066.5 L380.5,1066.0 L381.9,1065.4 L383.3,1064.9 L384.7,1064.4 L386.1,1063.8 L387.5,1063.3 L388.9,1062.7 L390.3,1062.2 L391.7,1061.6 L393.1,1061.0 L394.4,1060.4 L395.8,1059.8 L397.1,1059.1 L398.5,1058.4 L399.8,1057.7 L401.1,1057.0 L402.5,1056.3 L403.8,1055.6 L405.1,1054.8 L406.4,1054.1 L407.7,1053.3 L409.0,1052.5 L410.3,1051.8 L411.5,1050.9 L412.8,1050.1 L414.0,1049.2 L415.2,1048.4 L416.4,1047.4 L417.6,1046.5 L418.7,1045.6 L419.9,1044.6 L421.0,1043.6 L422.1,1042.6 L423.2,1041.5 L424.3,1040.4 L425.4,1039.4 L426.4,1038.3 L427.4,1037.1 L428.4,1036.0 L429.3,1034.9 L430.3,1033.7 L431.2,1032.5 L432.1,1031.3 L433.0,1030.1 L433.8,1028.9 L434.7,1027.6 L435.5,1026.4 L436.3,1025.1 L437.1,1023.8 L437.9,1022.5 L438.7,1021.2 L439.4,1020.0 L440.2,1018.7 L440.9,1017.4 L441.6,1016.0 L442.4,1014.7 L443.1,1013.4 L443.8,1012.1 L444.4,1010.7 L445.1,1009.4 L445.8,1008.0 L446.4,1006.7 L447.1,1005.3 L447.8,1004.0 L448.4,1002.6 L449.1,1001.3 L449.7,999.9 L450.3,998.5 L450.9,997.2 L451.5,995.8 L452.0,994.4 L452.6,993.0 L453.1,991.6 L453.6,990.2 L454.0,988.7 L454.5,987.3 L455.0,985.9 L455.4,984.4 L455.9,983.0 L456.3,981.6 L456.7,980.1 L457.2,978.7 L457.6,977.3 L458.0,975.8 L458.5,974.4 L458.9,972.9 L459.3,971.5 L459.7,970.1 L460.1,968.6 L460.5,967.2 L460.9,965.7 L461.3,964.3 L461.8,962.8 L462.2,961.4 L462.6,959.9 L463.0,958.5 L463.4,957.1 L463.8,955.6 L464.2,954.2 L464.6,952.7 L465.0,951.3 L465.4,949.8 L465.8,948.4 L466.2,946.9 L466.6,945.5 L467.0,944.0 L467.4,942.6 L467.8,941.1 L468.1,939.7 L468.5,938.2 L468.9,936.8 L469.3,935.3 L469.7,933.9 L470.0,932.4 L470.4,931.0 L470.8,929.5 L471.1,928.1 L471.5,926.6 L471.8,925.1 L472.2,923.7 L472.5,922.2 L472.8,920.8 L473.2,919.3 L473.5,917.8 L473.9,916.4 L474.2,914.9 L474.5,913.4 L474.8,912.0 L475.2,910.5 L475.5,909.0 L475.8,907.6 L476.1,906.1 L476.4,904.6 L476.7,903.2 L477.0,901.7 L477.3,900.2 L477.6,898.8 L477.9,897.3 L478.2,895.8 L478.5,894.4 L478.8,892.9 L479.1,891.4 L479.4,889.9 L479.7,888.5 L480.0,887.0 L480.3,885.5 L480.6,884.0 L480.9,882.6 L481.1,881.1 L481.4,879.6 L481.7,878.1 L482.0,876.7 L482.2,875.2 L482.5,873.7 L482.8,872.2 L483.0,870.8 L483.3,869.3 L483.5,867.8 L483.8,866.3 L484.0,864.8 L484.2,863.4 L484.5,861.9 L484.7,860.4 L484.9,858.9 L485.2,857.4 L485.4,855.9 L485.6,854.5 L485.8,853.0 L486.1,851.5 L486.3,850.0 L486.5,848.5 L486.7,847.0 L486.9,845.6 L487.2,844.1 L487.4,842.6 L487.6,841.1 L487.8,839.6 L488.0,838.1 L488.2,836.6 L488.4,835.2 L488.7,833.7 L488.9,832.2 L489.1,830.7 L489.3,829.2 L489.5,827.7 L489.7,826.2 L489.9,824.8 L490.1,823.3 L490.3,821.8 L490.6,820.3 L490.8,818.8 L491.0,817.3 L491.2,815.8 L491.4,814.4 L491.7,812.9 L491.9,811.4 L492.1,809.9 L492.3,808.4 L492.5,806.9 L492.7,805.4 L493.0,804.0 L493.2,802.5 L493.4,801.0 L493.6,799.5 L493.8,798.0 L493.9,796.5 L494.1,795.0 L494.3,793.5 L494.5,792.1 L494.6,790.6 L494.8,789.1 L494.9,787.6 L495.0,786.1 L495.2,784.6 L495.3,783.1 L495.4,781.6 L495.6,780.1 L495.7,778.6 L495.8,777.1 L495.9,775.6 L496.1,774.1 L496.2,772.6 L496.3,771.1 L496.4,769.6 L496.6,768.1 L496.7,766.6 L496.8,765.1 L497.0,763.6 L497.1,762.2 L497.2,760.7 L497.3,759.2 L497.5,757.7 L497.6,756.2 L497.7,754.7 L497.9,753.2 L498.0,751.7 L498.1,750.2 L498.2,748.7 L498.4,747.2 L498.5,745.7 L498.6,744.2 L498.8,742.7 L498.9,741.2 L499.0,739.7 L499.2,738.2 L499.3,736.7 L499.4,735.2 L499.5,733.7 L499.7,732.3 L499.8,730.8 L499.9,729.3 L500.1,727.8 L500.2,726.3 L500.3,724.8 L500.5,723.3 L500.6,721.8 L500.7,720.3 L500.8,718.8 L501.0,717.3 L501.1,715.8 L501.2,714.3 L501.4,712.8 L501.5,711.3 L501.7,709.8 L501.8,708.3 L502.0,706.8 L502.1,705.4 L502.3,703.9 L502.5,702.4 L502.6,700.9 L502.8,699.4 L503.0,697.9 L503.2,696.4 L503.4,694.9 L503.5,693.4 L503.7,691.9 L503.9,690.5 L504.1,689.0 L504.3,687.5 L504.5,686.0 L504.7,684.5 L504.8,683.0 L505.0,681.5 L505.2,680.0 L505.4,678.5 L505.6,677.0 L505.7,675.6 L505.9,674.1 L506.1,672.6 L506.3,671.1 L506.4,669.6 L506.6,668.1 L506.7,666.6 L506.9,665.1 L507.0,663.6 L507.2,662.1 L507.3,660.6 L507.4,659.1 L507.6,657.6 L507.7,656.1 L507.9,654.7 L508.0,653.2 L508.2,651.7 L508.3,650.2 L508.4,648.7 L508.6,647.2 L508.7,645.7 L508.9,644.2 L509.0,642.7 L509.1,641.2 L509.3,639.7 L509.4,638.2 L509.6,636.7 L509.7,635.2 L509.8,633.7 L510.0,632.2 L510.1,630.7 L510.2,629.3 L510.4,627.8 L510.5,626.3 L510.7,624.8 L510.8,623.3 L510.9,621.8 L511.1,620.3 L511.2,618.8 L511.3,617.3 L511.5,615.8 L511.6,614.3 L511.7,612.8 L511.9,611.3 L512.0,609.8 L512.1,608.3 L512.2,606.8 L512.4,605.3 L512.5,603.8 L512.6,602.3 L512.8,600.9 L512.9,599.4 L513.0,597.9 L513.2,596.4 L513.3,594.9 L513.4,593.4 L513.5,591.9 L513.7,590.4 L513.8,588.9 L513.9,587.4 L514.0,585.9 L514.2,584.4 L514.3,582.9 L514.4,581.4 L514.5,579.9 L514.7,578.4 L514.8,576.9 L514.9,575.4 L515.0,573.9 L515.2,572.4 L515.3,570.9 L515.4,569.4 L515.5,568.0 L515.6,566.5 L515.8,565.0 L515.9,563.5 L516.0,562.0 L516.1,560.5 L516.3,559.0 L516.4,557.5 L516.5,556.0 L516.6,554.5 L516.8,553.0 L516.9,551.5 L517.0,550.0 L517.1,548.5 L517.2,547.0 L517.4,545.5 L517.5,544.0 L517.6,542.5 L517.7,541.0 L517.9,539.5 L518.0,538.0 L518.1,536.5 L518.2,535.0 L518.4,533.6 L518.5,532.1 L518.6,530.6 L518.7,529.1 L518.8,527.6 L519.0,526.1 L519.1,524.6 L519.2,523.1 L519.3,521.6 L519.5,520.1 L519.6,518.6 L519.7,517.1 L519.8,515.6 L520.0,514.1 L520.1,512.6 L520.2,511.1 L520.3,509.6 L520.5,508.1 L520.6,506.6 L520.7,505.1 L520.9,503.6 L521.0,502.1 L521.1,500.7 L521.2,499.2 L521.4,497.7 L521.5,496.2 L521.6,494.7 L521.8,493.2 L521.9,491.7 L522.0,490.2 L522.1,488.7 L522.3,487.2 L522.4,485.7 L522.5,484.2 L522.7,482.7 L522.8,481.2 L522.9,479.7 L523.1,478.2 L523.2,476.7 L523.3,475.2 L523.5,473.7 L523.6,472.2 L523.7,470.8 L523.8,469.3 L524.0,467.8 L524.1,466.3 L524.2,464.8 L524.4,463.3 L524.5,461.8 L524.6,460.3 L524.8,458.8 L524.9,457.3 L525.0,455.8 L525.1,454.3 L525.3,452.8 L525.4,451.3 L525.5,449.8 L525.6,448.3 L525.7,446.8 L525.8,445.3 L525.9,443.8 L526.0,442.3 L526.1,440.8 L526.1,439.3 L526.2,437.8 L526.3,436.3 L526.3,434.8 L526.4,433.3 L526.4,431.8 L526.5,430.3 L526.6,428.8 L526.6,427.3 L526.7,425.8 L526.8,424.3 L526.8,422.8 L526.9,421.3 L527.0,419.8 L527.1,418.3 L527.2,416.9 L527.4,415.4 L527.5,413.9 L527.6,412.4 L527.8,410.9 L527.9,409.4 L528.1,407.9 L528.2,406.4 L528.3,404.9 L528.5,403.4 L528.6,401.9 L528.8,400.4 L528.9,398.9 L529.1,397.4 L529.3,395.9 L529.4,394.4 L529.6,393.0 L529.7,391.5 L529.9,390.0 L530.0,388.5 L530.2,387.0 L530.3,385.5 L530.5,384.0 L530.6,382.5 L530.8,381.0 L531.0,379.5 L531.1,378.0 L531.3,376.5 L531.4,375.0 L531.6,373.5 L531.7,372.1 L531.9,370.6 L532.0,369.1 L532.1,367.6 L532.3,366.1 L532.4,364.6 L532.6,363.1 L532.7,361.6 L532.8,360.1 L533.0,358.6 L533.1,357.1 L533.3,355.6 L533.4,354.1 L533.5,352.6 L533.7,351.1 L533.8,349.6 L533.9,348.1 L534.1,346.7 L534.2,345.2 L534.4,343.7 L534.5,342.2 L534.6,340.7 L534.8,339.2 L534.9,337.7 L535.0,336.2 L535.2,334.7 L535.3,333.2 L535.5,331.7 L535.6,330.2 L535.7,328.7 L535.9,327.2 L536.0,325.7 L536.2,324.2 L536.3,322.7 L536.4,321.3 L536.6,319.8 L536.7,318.3 L536.9,316.8 L537.0,315.3 L537.1,313.8 L537.3,312.3 L537.4,310.8 L537.6,309.3 L537.7,307.8 L537.8,306.3 L538.0,304.8 L538.1,303.3 L538.3,301.8 L538.4,300.3 L538.6,298.8 L538.7,297.3 L538.8,295.9 L539.0,294.4 L539.1,292.9 L539.3,291.4 L539.4,289.9 L539.6,288.4 L539.7,286.9 L539.9,285.4 L540.0,283.9 L540.1,282.4 L540.3,280.9 L540.4,279.4 L540.6,277.9 L540.8,276.4 L540.9,274.9 L541.1,273.5 L541.2,272.0 L541.4,270.5 L541.6,269.0 L541.7,267.5 L541.9,266.0 L542.1,264.5 L542.2,263.0 L542.4,261.5 L542.6,260.0 L542.7,258.5 L542.9,257.1 L543.1,255.6 L543.3,254.1 L543.4,252.6 L543.6,251.1 L543.8,249.6 L544.0,248.1 L544.1,246.6 L544.3,245.1 L544.5,243.6 L544.6,242.1 L544.8,240.7 L545.0,239.2 L545.2,237.7 L545.3,236.2 L545.5,234.7 L545.7,233.2 L545.9,231.7 L546.1,230.2 L546.2,228.7 L546.4,227.2 L546.6,225.8 L546.8,224.3 L547.0,222.8 L547.2,221.3 L547.4,219.8 L547.6,218.3 L547.8,216.8 L548.0,215.3 L548.2,213.9 L548.4,212.4 L548.6,210.9 L548.8,209.4 L549.0,207.9 L549.2,206.4 L549.4,204.9 L549.6,203.4 L549.9,202.0 L550.1,200.5 L550.4,199.0 L550.6,197.5 L550.9,196.1 L551.2,194.6 L551.6,193.1 L551.9,191.7 L552.2,190.2 L552.5,188.7 L552.9,187.3 L553.2,185.8 L553.6,184.3 L553.9,182.9 L554.3,181.4 L554.6,180.0 L554.9,178.5 L555.3,177.0 L555.7,175.6 L556.2,174.2 L556.7,172.8 L557.2,171.4 L557.8,170.0 L558.4,168.7 L559.1,167.3 L559.9,165.9 L560.7,164.6 L562.0,163.3 L563.5,162.4 L565.0,162.2 L566.0,162.9 L567.0,164.0 L567.9,165.2 L568.8,166.5 L569.6,167.8 L570.3,169.2 L570.9,170.6 L571.4,172.1 L571.9,173.5 L572.4,174.9 L572.9,176.3 L573.4,177.8 L573.8,179.2 L574.3,180.6 L574.7,182.0 L575.1,183.5 L575.5,184.9 L575.8,186.4 L576.2,187.9 L576.5,189.3 L576.8,190.8 L577.1,192.3 L577.5,193.7 L577.8,195.2 L578.1,196.7 L578.4,198.1 L578.7,199.6 L579.0,201.1 L579.3,202.5 L579.6,204.0 L579.9,205.5 L580.2,206.9 L580.5,208.4 L580.7,209.9 L581.0,211.4 L581.3,212.9 L581.5,214.3 L581.7,215.8 L582.0,217.3 L582.2,218.8 L582.5,220.3 L582.7,221.7 L582.9,223.2 L583.2,224.7 L583.4,226.2 L583.6,227.7 L583.8,229.2 L584.1,230.6 L584.3,232.1 L584.5,233.6 L584.7,235.1 L585.0,236.6 L585.2,238.1 L585.4,239.6 L585.6,241.0 L585.8,242.5 L586.0,244.0 L586.2,245.5 L586.4,247.0 L586.6,248.5 L586.8,250.0 L587.0,251.5 L587.1,252.9 L587.3,254.4 L587.5,255.9 L587.7,257.4 L587.9,258.9 L588.1,260.4 L588.3,261.9 L588.5,263.4 L588.7,264.8 L588.9,266.3 L589.1,267.8 L589.2,269.3 L589.4,270.8 L589.6,272.3 L589.8,273.8 L590.0,275.3 L590.1,276.8 L590.3,278.3 L590.5,279.7 L590.7,281.2 L590.9,282.7 L591.0,284.2 L591.2,285.7 L591.4,287.2 L591.5,288.7 L591.7,290.2 L591.9,291.7 L592.0,293.2 L592.2,294.7 L592.4,296.1 L592.5,297.6 L592.7,299.1 L592.9,300.6 L593.0,302.1 L593.2,303.6 L593.4,305.1 L593.5,306.6 L593.7,308.1 L593.9,309.6 L594.0,311.1 L594.2,312.5 L594.4,314.0 L594.5,315.5 L594.7,317.0 L594.9,318.5 L595.0,320.0 L595.2,321.5 L595.4,323.0 L595.5,324.5 L595.7,326.0 L595.8,327.5 L596.0,329.0 L596.2,330.5 L596.3,331.9 L596.5,333.4 L596.6,334.9 L596.8,336.4 L597.0,337.9 L597.1,339.4 L597.3,340.9 L597.4,342.4 L597.6,343.9 L597.7,345.4 L597.9,346.9 L598.1,348.4 L598.2,349.9 L598.4,351.3 L598.5,352.8 L598.7,354.3 L598.8,355.8 L599.0,357.3 L599.2,358.8 L599.3,360.3 L599.5,361.8 L599.6,363.3 L599.8,364.8 L599.9,366.3 L600.1,367.8 L600.3,369.3 L600.4,370.7 L600.6,372.2 L600.7,373.7 L600.9,375.2 L601.0,376.7 L601.2,378.2 L601.4,379.7 L601.5,381.2 L601.7,382.7 L601.8,384.2 L602.0,385.7 L602.1,387.2 L602.3,388.7 L602.4,390.1 L602.6,391.6 L602.7,393.1 L602.9,394.6 L603.0,396.1 L603.2,397.6 L603.3,399.1 L603.5,400.6 L603.7,402.1 L603.8,403.6 L604.0,405.1 L604.1,406.6 L604.2,408.1 L604.4,409.6 L604.5,411.1 L604.7,412.5 L604.8,414.0 L605.0,415.5 L605.1,417.0 L605.3,418.5 L605.4,420.0 L605.6,421.5 L605.7,423.0 L605.8,424.5 L606.0,426.0 L606.1,427.5 L606.2,429.0 L606.3,430.5 L606.5,432.0 L606.6,433.5 L606.7,435.0 L606.8,436.5 L607.0,438.0 L607.1,439.5 L607.2,440.9 L607.3,442.4 L607.5,443.9 L607.6,445.4 L607.7,446.9 L607.9,448.4 L608.0,449.9 L608.1,451.4 L608.3,452.9 L608.4,454.4 L608.6,455.9 L608.7,457.4 L608.8,458.9 L609.0,460.4 L609.1,461.9 L609.3,463.4 L609.4,464.9 L609.6,466.4 L609.7,467.8 L609.8,469.3 L610.0,470.8 L610.1,472.3 L610.3,473.8 L610.4,475.3 L610.6,476.8 L610.7,478.3 L610.8,479.8 L611.0,481.3 L611.1,482.8 L611.3,484.3 L611.4,485.8 L611.6,487.3 L611.7,488.8 L611.8,490.3 L612.0,491.7 L612.1,493.2 L612.3,494.7 L612.4,496.2 L612.5,497.7 L612.7,499.2 L612.8,500.7 L613.0,502.2 L613.1,503.7 L613.3,505.2 L613.4,506.7 L613.5,508.2 L613.7,509.7 L613.8,511.2 L614.0,512.7 L614.1,514.2 L614.3,515.6 L614.4,517.1 L614.5,518.6 L614.7,520.1 L614.8,521.6 L615.0,523.1 L615.1,524.6 L615.3,526.1 L615.4,527.6 L615.6,529.1 L615.7,530.6 L615.9,532.1 L616.1,533.6 L616.2,535.1 L616.4,536.5 L616.6,538.0 L616.7,539.5 L616.9,541.0 L617.1,542.5 L617.3,544.0 L617.5,545.5 L617.6,547.0 L617.8,548.5 L618.0,550.0 L618.2,551.4 L618.4,552.9 L618.6,554.4 L618.8,555.9 L619.0,557.4 L619.1,558.9 L619.3,560.4 L619.5,561.9 L619.7,563.4 L619.9,564.8 L620.1,566.3 L620.3,567.8 L620.5,569.3 L620.6,570.8 L620.8,572.3 L621.0,573.8 L621.2,575.3 L621.4,576.8 L621.6,578.2 L621.8,579.7 L622.0,581.2 L622.2,582.7 L622.4,584.2 L622.6,585.7 L622.8,587.2 L623.0,588.7 L623.2,590.2 L623.4,591.6 L623.6,593.1 L623.8,594.6 L624.0,596.1 L624.2,597.6 L624.4,599.1 L624.6,600.6 L624.9,602.0 L625.1,603.5 L625.3,605.0 L625.6,606.5 L625.8,608.0 L626.0,609.4 L626.3,610.9 L626.5,612.4 L626.8,613.9 L627.0,615.4 L627.3,616.9 L627.5,618.3 L627.8,619.8 L628.0,621.3 L628.3,622.8 L628.5,624.2 L628.8,625.7 L629.0,627.2 L629.3,628.7 L629.6,630.2 L629.8,631.6 L630.1,633.1 L630.4,634.6 L630.6,636.1 L630.9,637.5 L631.2,639.0 L631.4,640.5 L631.7,642.0 L632.0,643.4 L632.2,644.9 L632.5,646.4 L632.8,647.9 L633.1,649.4 L633.3,650.8 L633.6,652.3 L633.9,653.8 L634.1,655.3 L634.4,656.7 L634.7,658.2 L635.0,659.7 L635.2,661.2 L635.5,662.6 L635.8,664.1 L636.1,665.6 L636.3,667.1 L636.6,668.5 L636.9,670.0 L637.2,671.5 L637.4,673.0 L637.7,674.4 L638.0,675.9 L638.3,677.4 L638.5,678.9 L638.8,680.3 L639.1,681.8 L639.4,683.3 L639.7,684.8 L639.9,686.2 L640.2,687.7 L640.5,689.2 L640.8,690.7 L641.1,692.1 L641.4,693.6 L641.6,695.1 L641.9,696.5 L642.2,698.0 L642.5,699.5 L642.8,701.0 L643.1,702.4 L643.4,703.9 L643.7,705.4 L644.0,706.8 L644.3,708.3 L644.6,709.8 L644.9,711.3 L645.2,712.7 L645.5,714.2 L645.8,715.7 L646.1,717.1 L646.4,718.6 L646.7,720.1 L647.0,721.6 L647.3,723.0 L647.6,724.5 L647.8,726.0 L648.1,727.4 L648.4,728.9 L648.7,730.4 L649.0,731.9 L649.3,733.3 L649.5,734.8 L649.8,736.3 L650.1,737.8 L650.3,739.2 L650.6,740.7 L650.8,742.2 L651.1,743.7 L651.3,745.2 L651.6,746.6 L651.9,748.1 L652.1,749.6 L652.4,751.1 L652.7,752.5 L653.0,754.0 L653.3,755.5 L653.6,757.0 L653.9,758.4 L654.2,759.9 L654.5,761.4 L654.8,762.8 L655.2,764.3 L655.5,765.7 L655.9,767.2 L656.2,768.7 L656.6,770.1 L657.0,771.6 L657.4,773.0 L657.8,774.5 L658.2,775.9 L658.7,777.3 L659.1,778.8 L659.6,780.2 L660.1,781.6 L660.6,783.0 L661.2,784.4 L661.7,785.8 L662.3,787.2 L662.8,788.6 L663.4,790.0 L664.0,791.4 L664.6,792.8 L665.2,794.1 L665.8,795.5 L666.4,796.9 L667.1,798.2 L667.7,799.6 L668.4,800.9 L669.0,802.3 L669.7,803.6 L670.3,805.0 L671.0,806.4 L671.6,807.7 L672.3,809.1 L672.9,810.4 L673.6,811.7 L674.3,813.1 L675.0,814.4 L675.7,815.7 L676.5,817.0 L677.2,818.3 L677.9,819.6 L678.6,821.0 L679.4,822.3 L680.1,823.6 L680.8,824.9 L681.6,826.2 L682.3,827.5 L683.0,828.8 L683.8,830.1 L684.5,831.4 L685.2,832.8 L685.9,834.1 L686.7,835.4 L687.4,836.7 L688.1,838.0 L688.9,839.3 L689.6,840.6 L690.3,841.9 L691.1,843.2 L691.8,844.6 L692.5,845.9 L693.2,847.2 L694.0,848.5 L694.7,849.8 L695.4,851.1 L696.2,852.4 L697.0,853.7 L697.7,855.0 L698.5,856.3 L699.3,857.5 L700.1,858.8 L700.8,860.1 L701.6,861.4 L702.3,862.7 L703.1,864.0 L703.8,865.3 L704.6,866.6 L705.3,867.9 L706.1,869.2 L706.8,870.5 L707.6,871.8 L708.3,873.1 L709.1,874.4 L709.9,875.7 L710.6,877.0 L711.4,878.3 L712.2,879.6 L712.9,880.9 L713.7,882.1 L714.5,883.4 L715.3,884.7 L716.1,886.0 L716.9,887.2 L717.7,888.5 L718.5,889.8 L719.3,891.0 L720.1,892.3 L720.9,893.6 L721.7,894.9 L722.4,896.2 L723.2,897.4 L724.0,898.7 L724.8,900.0 L725.5,901.3 L726.3,902.6 L727.1,903.8 L727.9,905.1 L728.7,906.4 L729.5,907.6 L730.3,908.9 L731.2,910.2 L732.0,911.4 L732.8,912.7 L733.6,913.9 L734.5,915.2 L735.3,916.4 L736.1,917.7 L737.0,918.9 L737.8,920.2 L738.7,921.4 L739.5,922.6 L740.4,923.8 L741.3,925.1 L742.2,926.3 L743.1,927.5 L744.0,928.6 L744.9,929.8 L745.9,931.0 L746.9,932.1 L747.9,933.3 L748.9,934.4 L749.9,935.4 L751.0,936.5 L752.1,937.5 L753.2,938.6 L754.3,939.6 L755.4,940.6 L756.5,941.6 L757.7,942.6 L758.8,943.5 L760.0,944.5 L761.2,945.4 L762.4,946.3 L763.5,947.2 L764.7,948.2 L765.9,949.1 L767.1,950.0 L768.3,950.9 L769.4,951.9 L770.6,952.9 L771.7,953.9 L772.8,954.8 L774.0,955.8 L775.1,956.8 L776.2,957.8 L777.3,958.8 L778.4,959.8 L779.6,960.8 L780.7,961.9 L781.7,962.9 L782.8,963.9 L783.9,965.0 L785.0,966.0 L786.0,967.1 L787.0,968.2 L788.0,969.3 L789.0,970.5 L790.0,971.6 L791.0,972.7 L792.0,973.9 L793.0,975.0 L793.9,976.1 L794.9,977.2 L796.0,978.4 L797.0,979.5 L798.0,980.5 L799.1,981.6 L800.1,982.7 L801.2,983.8 L802.2,984.8 L803.3,985.9 L804.3,987.0 L805.4,988.0 L806.5,989.1 L807.5,990.1 L808.6,991.2 L809.7,992.2 L810.8,993.2 L811.9,994.3 L813.0,995.3 L814.1,996.3 L815.2,997.3 L816.3,998.3 L817.5,999.3 L818.6,1000.3 L819.7,1001.3 L820.8,1002.2 L822.0,1003.2 L823.1,1004.2 L824.2,1005.2 L825.4,1006.2 L826.5,1007.1 L827.7,1008.1 L828.9,1009.0 L830.0,1010.0 L831.2,1010.9 L832.4,1011.8 L833.6,1012.7 L834.8,1013.6 L836.1,1014.4 L837.4,1015.2 L838.7,1015.9 L840.0,1016.6 L841.4,1017.2 L842.7,1017.8 L844.1,1018.4 L845.5,1019.0 L846.9,1019.6 L848.3,1020.2 L849.7,1020.7 L851.2,1021.3 L852.6,1021.8 L854.0,1022.2 L855.5,1022.6 L856.9,1023.0 L858.4,1023.3 L859.8,1023.6 L861.3,1023.8 L862.8,1023.9 L864.3,1023.9 L865.9,1023.9 L867.4,1023.7 L868.9,1023.4 L870.3,1023.0 L871.7,1022.5 L873.2,1022.0 L874.6,1021.6 L876.0,1021.1 L877.4,1020.6 L878.9,1020.1 L880.3,1019.7 L881.7,1019.2 L883.1,1018.8 L884.6,1018.4 L886.0,1017.9 L887.5,1017.5 L888.9,1017.1 L890.3,1016.7 L891.8,1016.4 L893.3,1016.3 L894.9,1016.4 L896.4,1016.5 L897.9,1016.7 L899.4,1016.9 L900.8,1017.2 L902.3,1017.7 L903.7,1018.3 L905.0,1019.1 L906.2,1020.1 L907.4,1021.0 L908.6,1021.9 L909.7,1022.9 L910.9,1023.8 L912.0,1024.8 L913.1,1025.8 L914.2,1026.7 L915.4,1027.7 L916.5,1028.7 L917.6,1029.7 L918.7,1030.7 L919.9,1031.7 L921.0,1032.7 L922.1,1033.7 L923.2,1034.7 L924.3,1035.7 L925.5,1036.7 L926.6,1037.6 L927.8,1038.6 L929.0,1039.5 L930.3,1040.3 L931.6,1041.1 L932.9,1041.9 L934.2,1042.5 L935.6,1043.1 L937.0,1043.7 L938.4,1044.2 L939.8,1044.7 L941.3,1045.1 L942.7,1045.5 L944.2,1045.9 L945.6,1046.3 L947.1,1046.7 L948.5,1047.1 L950.0,1047.4 L951.4,1047.8 L952.9,1048.1 L954.3,1048.5 L955.8,1048.9 L957.2,1049.3 L958.7,1049.7 L960.1,1050.1 L961.6,1050.6 L963.0,1051.0 L964.4,1051.5 L965.8,1052.0 L967.2,1052.5 L968.6,1053.1 L970.0,1053.7 L971.4,1054.3 L972.7,1054.9 L974.1,1055.5 L975.5,1056.2 L976.8,1056.8 L978.2,1057.4 L979.6,1058.1 L980.9,1058.7 L982.3,1059.3 L983.7,1059.9 L985.0,1060.5 L986.4,1061.1 L987.8,1061.7 L989.1,1062.3 L990.5,1062.9 L991.9,1063.5 L993.3,1064.1 L994.7,1064.7 L996.0,1065.3 L997.4,1065.8 L998.9,1066.3 L1000.3,1066.7 L1001.7,1067.1 L1003.2,1067.5 L1004.7,1067.9 L1006.1,1068.2 L1007.6,1068.6 L1009.1,1068.9 L1010.6,1069.2 L1012.1,1069.5 L1013.6,1069.7 L1015.1,1069.8 L1016.5,1069.8 L1018.0,1069.7 L1019.5,1069.6 L1021.0,1069.4 L1022.5,1069.2 L1024.0,1068.9 L1025.5,1068.7 L1027.0,1068.5 L1028.4,1068.4 L1029.9,1068.2 L1031.4,1068.1 L1032.9,1067.9 L1034.4,1067.8 L1035.9,1067.8 L1037.4,1067.8 L1038.9,1068.0 L1040.4,1068.3 L1041.8,1068.7 L1043.2,1069.2 L1044.6,1069.8 L1046.0,1070.4 L1047.4,1071.1 L1048.8,1071.7 L1050.1,1072.4 L1051.4,1073.1 L1052.7,1073.8 L1054.1,1074.5 L1055.4,1075.1 L1056.8,1075.8 L1058.2,1076.5 L1059.6,1077.2 L1061.0,1077.8 L1062.5,1078.3 L1063.9,1078.5 L1065.3,1078.4 L1066.7,1078.0 L1068.2,1077.5 L1069.6,1077.0 L1071.0,1076.4 L1072.4,1075.9 L1073.9,1075.5 L1075.3,1075.0 L1076.8,1074.5 L1078.2,1074.2 L1079.7,1074.0 L1081.1,1074.1 L1082.5,1074.5 L1084.0,1075.1 L1085.3,1075.8 L1086.7,1076.6 L1088.1,1077.2 L1089.4,1077.9 L1090.7,1078.7 L1092.1,1079.3 L1093.4,1080.0 L1094.8,1080.6 L1096.2,1081.2 L1097.6,1081.7 L1099.1,1082.1 L1100.5,1082.4 L1102.0,1082.7 L1103.5,1082.8 L1105.0,1082.9 L1106.5,1082.9 L1108.0,1082.9 L1109.5,1082.8 L1111.0,1082.7 L1112.5,1082.5 L1114.0,1082.3 L1115.5,1082.0 L1116.9,1081.7 L1118.4,1081.3 L1119.8,1080.9 L1121.3,1080.5 L1122.8,1080.3 L1124.3,1080.1 L1125.8,1080.1 L1127.3,1080.1 L1128.8,1080.1 L1130.3,1080.2 L1131.8,1080.3 L1133.3,1080.3 L1134.8,1080.2 L1136.3,1080.1 L1137.8,1079.9 L1139.2,1079.7 L1140.7,1079.5 L1142.2,1079.3 L1143.7,1079.1 L1145.2,1079.0 L1146.7,1079.0 L1148.2,1079.1 L1149.7,1079.3 L1151.2,1079.5 L1152.6,1079.9 L1154.1,1080.5 L1155.4,1081.1 L1156.8,1081.7 L1158.1,1082.5 L1159.3,1083.4 L1160.5,1084.2 L1161.7,1085.1 L1163.0,1086.0 L1164.2,1086.8 L1165.6,1087.5 L1166.9,1088.1 L1168.3,1088.8 L1169.7,1089.3 L1171.1,1089.8 L1172.6,1090.2 L1174.0,1090.6 L1175.5,1090.9 L1177.0,1091.2 L1178.4,1091.4 L1179.9,1091.7 L1181.4,1091.9 L1182.9,1092.1 L1184.4,1092.2 L1185.9,1092.4 L1187.4,1092.5 L1188.9,1092.5 L1190.4,1092.4 L1191.9,1092.2 L1193.3,1091.8 L1194.7,1091.1 L1196.1,1090.3 L1197.3,1089.4 L1198.5,1088.5 L1199.6,1087.5 L1200.7,1086.5 L1201.8,1085.5 L1202.9,1084.5 L1203.9,1083.4 L1204.9,1082.3 L1205.9,1081.2 L1207.0,1080.1 L1208.1,1079.1 L1209.4,1078.2 L1210.6,1077.4 L1212.0,1076.8 L1213.4,1076.2 L1214.9,1075.8 L1216.4,1075.6 L1217.9,1075.7 L1219.3,1076.1 L1220.8,1076.6 L1222.1,1077.4 L1223.3,1078.3 L1224.4,1079.3 L1225.6,1080.2 L1226.7,1081.2 L1227.9,1082.1 L1229.1,1083.0 L1230.3,1084.0 L1231.5,1084.9 L1232.7,1085.8 L1233.9,1086.7 L1235.1,1087.5 L1236.3,1088.4 L1237.6,1089.1 L1238.9,1089.8 L1240.3,1090.5 L1241.7,1091.1 L1243.2,1091.5 L1244.7,1091.7 L1246.2,1091.8 L1247.7,1091.7 L1249.1,1091.5 L1250.6,1091.1 L1252.1,1090.8 L1253.6,1090.6 L1255.1,1090.6 L1256.6,1090.7 L1258.1,1090.8 L1259.6,1091.0 L1261.0,1091.2 L1262.5,1091.6 L1264.0,1092.0 L1265.4,1092.2 L1266.9,1092.1 L1268.4,1091.7 L1269.9,1091.4 L1271.4,1091.5 L1272.8,1091.7 L1274.3,1092.1 L1275.7,1092.7 L1277.1,1093.5 L1278.3,1094.3 L1279.5,1095.3 L1280.5,1096.3 L1281.5,1097.4 L1282.5,1098.6 L1283.3,1099.8 L1284.2,1101.1 L1285.1,1102.3 L1286.0,1103.4 L1287.0,1104.5 L1288.1,1105.6 L1289.2,1106.5 L1290.4,1107.4 L1291.8,1108.3 L1293.2,1108.9 L1294.7,1109.2 L1296.2,1109.2 L1297.6,1108.9 L1299.1,1108.3 L1300.3,1107.5 L1301.4,1106.4 L1302.4,1105.2 L1303.4,1104.1 L1304.3,1103.0 L1305.3,1101.9 L1306.3,1100.7 L1307.3,1099.6 L1308.2,1098.4 L1309.2,1097.3 L1310.3,1096.3 L1311.6,1095.4 L1312.9,1094.7 L1314.3,1094.1 L1315.9,1093.8 L1317.4,1094.2 L1318.6,1095.1 L1319.6,1096.1 L1320.7,1097.2 L1321.6,1098.4 L1322.5,1099.6 L1323.4,1100.8 L1324.3,1102.0 L1325.2,1103.2 L1326.2,1104.4 L1327.2,1105.5 L1328.4,1106.5 L1329.7,1107.3 L1331.0,1108.0 L1332.5,1108.4 L1334.0,1108.6 L1335.5,1108.8 L1337.0,1108.9 L1338.5,1109.0 L1340.0,1109.1 L1341.4,1109.1 L1342.9,1109.1 L1344.4,1109.1 L1345.9,1109.1 L1347.4,1109.1 L1348.9,1109.1 L1350.4,1109.1 L1351.9,1109.0 L1353.4,1108.9 L1354.9,1108.8 L1356.4,1108.5 L1357.8,1108.0 L1359.2,1107.3 L1360.5,1106.5 L1361.6,1105.4 L1362.5,1104.3 L1363.4,1103.0 L1364.3,1101.8 L1365.3,1100.7 L1366.6,1099.8 L1367.9,1099.1 L1369.2,1098.4 L1370.6,1097.9 L1372.1,1097.6 L1373.6,1097.4 L1375.2,1097.5 L1376.6,1097.9 L1377.9,1098.5 L1379.2,1099.3 L1380.5,1100.1 L1381.9,1100.8 L1383.2,1101.4 L1384.6,1101.9 L1386.1,1102.4 L1387.5,1102.9 L1388.9,1103.5 L1390.2,1104.2 L1391.4,1105.1 L1392.6,1106.0 L1393.9,1106.8 L1395.2,1107.5 L1396.6,1108.0 L1398.1,1108.4 L1399.5,1108.8 L1401.0,1109.1 L1402.5,1109.4 L1404.0,1109.8 L1405.5,1110.0 L1407.0,1110.3 L1408.5,1110.4 L1410.1,1110.5 L1411.6,1110.4 L1413.1,1110.2 L1414.6,1109.8 L1416.0,1109.2 L1417.3,1108.4 L1418.4,1107.4 L1419.4,1106.2 L1420.3,1105.0 L1421.1,1103.7 L1421.9,1102.4 L1422.6,1101.1 L1423.3,1099.8 L1424.0,1098.5 L1424.8,1097.2 L1425.8,1096.0 L1426.8,1094.9 L1428.0,1093.9 L1429.2,1093.1 L1430.6,1092.5 L1432.2,1092.5 L1433.6,1093.3 L1434.6,1094.5 L1435.5,1095.7 L1436.3,1096.9 L1437.1,1098.2 L1437.9,1099.4 L1438.7,1100.7 L1439.4,1102.0 L1440.2,1103.3 L1441.1,1104.5 L1442.1,1105.7 L1443.4,1106.6 L1444.8,1107.1 L1446.3,1107.3 L1447.8,1107.4 L1449.3,1107.3 L1450.8,1107.0 L1452.3,1106.7 L1453.7,1106.2 L1455.1,1105.7 L1456.5,1105.1 L1457.9,1104.6 L1459.3,1104.1 L1460.8,1103.7 L1462.3,1103.3 L1463.8,1103.1 L1465.2,1103.0 L1466.7,1103.1 L1468.2,1103.4 L1469.7,1103.8 L1471.1,1104.2 L1472.6,1104.7 L1473.9,1105.3 L1475.3,1105.9 L1476.7,1106.4 L1478.2,1106.6 L1479.7,1106.7 L1481.2,1106.7 L1482.7,1106.7 L1484.2,1106.7 L1485.7,1106.7 L1487.2,1106.9 L1488.7,1107.1 L1490.2,1107.3 L1491.6,1107.6 L1493.1,1107.8 L1494.6,1108.1 L1496.1,1108.5 L1497.5,1108.8 L1499.0,1109.1 L1500.5,1109.4 L1501.9,1109.6 L1503.4,1109.8 L1504.9,1109.9 L1506.4,1110.0 L1507.9,1110.1 L1509.4,1110.2 L1510.9,1110.2 L1512.4,1110.2 L1513.9,1110.2 L1515.4,1110.2 L1516.9,1110.2 L1518.4,1110.1 L1519.9,1110.0 L1521.4,1109.9 L1522.9,1109.8 L1524.4,1109.7 L1526.0,1109.5 L1527.5,1109.4 L1529.0,1109.2" fill="none" stroke="#00D400" stroke-width="2.8" stroke-linejoin="round" stroke-linecap="butt"/>
<path d="M180.6,1105.2 L182.1,1105.1 L183.6,1105.0 L185.1,1105.0 L186.6,1104.9 L188.1,1104.8 L189.6,1104.7 L191.1,1104.6 L192.6,1104.5 L194.1,1104.4 L195.6,1104.3 L197.1,1104.2 L198.6,1104.1 L200.1,1104.1 L201.6,1104.0 L203.1,1103.8 L204.6,1103.7 L206.1,1103.6 L207.6,1103.5 L209.1,1103.4 L210.5,1103.3 L212.0,1103.2 L213.5,1103.1 L215.0,1103.0 L216.5,1102.9 L218.0,1102.7 L219.5,1102.6 L221.0,1102.5 L222.5,1102.4 L224.0,1102.3 L225.5,1102.1 L227.0,1102.0 L228.5,1101.9 L230.0,1101.7 L231.5,1101.6 L233.0,1101.5 L234.5,1101.3 L236.0,1101.2 L237.5,1101.0 L238.9,1100.9 L240.4,1100.8 L241.9,1100.6 L243.4,1100.5 L244.9,1100.3 L246.4,1100.1 L247.9,1100.0 L249.4,1099.8 L250.9,1099.7 L252.4,1099.5 L253.9,1099.3 L255.4,1099.2 L256.8,1099.0 L258.3,1098.8 L259.8,1098.7 L261.3,1098.5 L262.8,1098.3 L264.3,1098.2 L265.8,1098.0 L267.3,1097.8 L268.8,1097.6 L270.3,1097.5 L271.8,1097.3 L273.2,1097.1 L274.7,1096.9 L276.2,1096.7 L277.7,1096.6 L279.2,1096.4 L280.7,1096.2 L282.2,1096.0 L283.7,1095.8 L285.2,1095.6 L286.6,1095.5 L288.1,1095.3 L289.6,1095.1 L291.1,1094.9 L292.6,1094.7 L294.1,1094.5 L295.6,1094.2 L297.0,1094.0 L298.5,1093.8 L300.0,1093.6 L301.5,1093.4 L303.0,1093.1 L304.5,1092.9 L305.9,1092.7 L307.4,1092.4 L308.9,1092.2 L310.4,1091.9 L311.9,1091.7 L313.3,1091.4 L314.8,1091.1 L316.3,1090.8 L317.8,1090.6 L319.2,1090.3 L320.7,1089.9 L322.2,1089.6 L323.6,1089.3 L325.1,1089.0 L326.6,1088.6 L328.0,1088.3 L329.5,1087.9 L330.9,1087.6 L332.4,1087.2 L333.8,1086.9 L335.3,1086.5 L336.8,1086.1 L338.2,1085.7 L339.7,1085.4 L341.1,1085.0 L342.6,1084.6 L344.0,1084.2 L345.5,1083.8 L346.9,1083.4 L348.4,1083.0 L349.8,1082.6 L351.3,1082.2 L352.7,1081.8 L354.1,1081.4 L355.6,1081.0 L357.0,1080.5 L358.4,1080.1 L359.9,1079.7 L361.3,1079.2 L362.7,1078.8 L364.2,1078.3 L365.6,1077.8 L367.0,1077.4 L368.4,1076.9 L369.9,1076.4 L371.3,1075.9 L372.7,1075.4 L374.1,1074.9 L375.5,1074.4 L376.9,1073.9 L378.3,1073.4 L379.7,1072.8 L381.1,1072.3 L382.5,1071.7 L383.9,1071.1 L385.3,1070.5 L386.7,1069.9 L388.0,1069.3 L389.4,1068.7 L390.8,1068.0 L392.1,1067.4 L393.5,1066.7 L394.8,1066.0 L396.1,1065.3 L397.4,1064.6 L398.8,1063.9 L400.1,1063.1 L401.4,1062.4 L402.7,1061.6 L403.9,1060.9 L405.2,1060.1 L406.5,1059.3 L407.8,1058.6 L409.1,1057.8 L410.4,1057.0 L411.6,1056.2 L412.9,1055.4 L414.2,1054.6 L415.4,1053.8 L416.6,1052.9 L417.8,1052.0 L419.0,1051.0 L420.2,1050.1 L421.3,1049.1 L422.4,1048.1 L423.5,1047.0 L424.6,1046.0 L425.6,1044.9 L426.7,1043.8 L427.7,1042.7 L428.7,1041.6 L429.7,1040.5 L430.7,1039.3 L431.6,1038.2 L432.6,1037.0 L433.6,1035.9 L434.5,1034.7 L435.5,1033.6 L436.4,1032.4 L437.4,1031.2 L438.3,1030.0 L439.2,1028.9 L440.1,1027.7 L441.0,1026.5 L441.9,1025.3 L442.8,1024.0 L443.6,1022.8 L444.5,1021.6 L445.3,1020.3 L446.2,1019.1 L447.0,1017.8 L447.8,1016.6 L448.7,1015.3 L449.5,1014.1 L450.3,1012.8 L451.0,1011.5 L451.8,1010.2 L452.6,1008.9 L453.3,1007.6 L454.1,1006.3 L454.8,1005.0 L455.5,1003.7 L456.2,1002.4 L456.9,1001.0 L457.6,999.7 L458.3,998.4 L459.0,997.0 L459.6,995.7 L460.3,994.4 L461.0,993.0 L461.6,991.7 L462.3,990.3 L462.9,989.0 L463.6,987.6 L464.2,986.3 L464.9,984.9 L465.5,983.5 L466.1,982.2 L466.7,980.8 L467.3,979.4 L468.0,978.1 L468.6,976.7 L469.2,975.3 L469.8,973.9 L470.4,972.6 L471.0,971.2 L471.6,969.8 L472.2,968.4 L472.8,967.1 L473.3,965.7 L473.9,964.3 L474.5,962.9 L475.1,961.5 L475.6,960.1 L476.2,958.7 L476.7,957.3 L477.3,955.9 L477.8,954.6 L478.4,953.2 L478.9,951.8 L479.5,950.4 L480.0,949.0 L480.5,947.5 L481.0,946.1 L481.6,944.7 L482.1,943.3 L482.6,941.9 L483.1,940.5 L483.6,939.1 L484.1,937.7 L484.6,936.2 L485.0,934.8 L485.5,933.4 L486.0,932.0 L486.4,930.5 L486.9,929.1 L487.3,927.7 L487.8,926.2 L488.2,924.8 L488.7,923.4 L489.1,921.9 L489.5,920.5 L489.9,919.1 L490.3,917.6 L490.8,916.2 L491.1,914.7 L491.5,913.3 L491.9,911.8 L492.3,910.4 L492.7,908.9 L493.1,907.5 L493.5,906.0 L493.9,904.6 L494.2,903.1 L494.6,901.7 L495.0,900.2 L495.3,898.8 L495.7,897.3 L496.1,895.8 L496.4,894.4 L496.8,892.9 L497.1,891.5 L497.4,890.0 L497.8,888.5 L498.1,887.1 L498.4,885.6 L498.8,884.2 L499.1,882.7 L499.4,881.2 L499.7,879.8 L500.1,878.3 L500.4,876.8 L500.7,875.4 L501.0,873.9 L501.3,872.4 L501.7,871.0 L502.0,869.5 L502.3,868.0 L502.6,866.6 L502.9,865.1 L503.2,863.6 L503.5,862.2 L503.9,860.7 L504.2,859.2 L504.5,857.8 L504.8,856.3 L505.1,854.8 L505.4,853.4 L505.7,851.9 L506.0,850.4 L506.3,848.9 L506.6,847.5 L506.9,846.0 L507.2,844.5 L507.5,843.1 L507.8,841.6 L508.1,840.1 L508.4,838.6 L508.7,837.2 L509.0,835.7 L509.3,834.2 L509.6,832.8 L509.9,831.3 L510.1,829.8 L510.4,828.4 L510.7,826.9 L511.0,825.4 L511.3,823.9 L511.6,822.5 L511.9,821.0 L512.2,819.5 L512.5,818.1 L512.8,816.6 L513.1,815.1 L513.4,813.6 L513.7,812.2 L514.0,810.7 L514.2,809.2 L514.5,807.8 L514.8,806.3 L515.1,804.8 L515.4,803.3 L515.7,801.9 L516.0,800.4 L516.3,798.9 L516.6,797.5 L516.8,796.0 L517.1,794.5 L517.4,793.0 L517.7,791.6 L518.0,790.1 L518.3,788.6 L518.6,787.1 L518.8,785.7 L519.1,784.2 L519.4,782.7 L519.7,781.2 L519.9,779.8 L520.2,778.3 L520.5,776.8 L520.8,775.3 L521.0,773.9 L521.3,772.4 L521.5,770.9 L521.8,769.4 L522.0,767.9 L522.3,766.5 L522.5,765.0 L522.8,763.5 L523.0,762.0 L523.3,760.6 L523.5,759.1 L523.8,757.6 L524.0,756.1 L524.3,754.6 L524.5,753.2 L524.7,751.7 L525.0,750.2 L525.2,748.7 L525.4,747.2 L525.6,745.7 L525.9,744.3 L526.1,742.8 L526.3,741.3 L526.5,739.8 L526.8,738.3 L527.0,736.8 L527.3,735.4 L527.6,733.9 L527.8,732.4 L528.1,730.9 L528.4,729.5 L528.7,728.0 L529.0,726.5 L529.3,725.1 L529.6,723.6 L529.9,722.1 L530.2,720.6 L530.5,719.2 L530.8,717.7 L531.1,716.2 L531.4,714.8 L531.7,713.3 L532.0,711.8 L532.3,710.4 L532.6,708.9 L532.9,707.4 L533.2,706.0 L533.5,704.5 L533.8,703.0 L534.1,701.5 L534.4,700.1 L534.7,698.6 L535.0,697.1 L535.3,695.7 L535.6,694.2 L536.0,692.7 L536.3,691.3 L536.6,689.8 L536.9,688.3 L537.2,686.9 L537.5,685.4 L537.8,683.9 L538.1,682.5 L538.4,681.0 L538.8,679.5 L539.1,678.1 L539.4,676.6 L539.7,675.1 L540.0,673.7 L540.4,672.2 L540.7,670.7 L541.0,669.3 L541.3,667.8 L541.7,666.3 L542.0,664.9 L542.3,663.4 L542.7,662.0 L543.0,660.5 L543.3,659.0 L543.7,657.6 L544.0,656.1 L544.3,654.6 L544.7,653.2 L545.0,651.7 L545.4,650.3 L545.7,648.8 L546.1,647.3 L546.5,645.9 L546.8,644.4 L547.2,643.0 L547.6,641.5 L547.9,640.1 L548.3,638.6 L548.7,637.2 L549.0,635.7 L549.4,634.3 L549.8,632.8 L550.2,631.4 L550.6,629.9 L550.9,628.5 L551.3,627.0 L551.7,625.5 L552.1,624.1 L552.4,622.6 L552.8,621.2 L553.2,619.8 L553.6,618.3 L554.0,616.9 L554.4,615.4 L554.8,614.0 L555.2,612.5 L555.6,611.1 L556.0,609.6 L556.5,608.2 L556.9,606.7 L557.3,605.3 L557.7,603.9 L558.2,602.4 L558.6,601.0 L559.1,599.6 L559.6,598.2 L560.1,596.8 L560.6,595.4 L561.2,594.0 L561.7,592.6 L562.3,591.2 L562.8,589.8 L563.3,588.4 L563.9,587.0 L564.4,585.6 L564.9,584.2 L565.5,582.8 L566.0,581.5 L566.7,580.2 L567.3,578.8 L568.1,577.5 L569.0,576.2 L569.9,574.9 L571.0,573.6 L572.3,572.4 L573.7,571.5 L575.0,570.9 L576.4,570.7 L577.6,570.9 L578.9,571.5 L580.1,572.3 L581.3,573.4 L582.4,574.6 L583.4,575.9 L584.4,577.2 L585.2,578.6 L585.9,579.9 L586.6,581.3 L587.2,582.6 L587.8,584.0 L588.3,585.3 L588.8,586.7 L589.3,588.1 L589.8,589.5 L590.2,590.9 L590.7,592.4 L591.1,593.8 L591.6,595.2 L592.1,596.7 L592.5,598.1 L593.0,599.5 L593.4,601.0 L593.9,602.4 L594.3,603.8 L594.7,605.3 L595.2,606.7 L595.6,608.1 L596.0,609.6 L596.4,611.0 L596.8,612.5 L597.2,613.9 L597.7,615.3 L598.1,616.8 L598.5,618.2 L598.9,619.7 L599.3,621.1 L599.7,622.6 L600.1,624.0 L600.5,625.4 L600.9,626.9 L601.3,628.3 L601.7,629.8 L602.1,631.2 L602.5,632.7 L602.9,634.1 L603.2,635.6 L603.6,637.0 L604.0,638.5 L604.4,639.9 L604.7,641.4 L605.1,642.9 L605.5,644.3 L605.8,645.8 L606.2,647.2 L606.5,648.7 L606.9,650.1 L607.3,651.6 L607.6,653.1 L607.9,654.5 L608.3,656.0 L608.6,657.4 L609.0,658.9 L609.3,660.4 L609.6,661.8 L610.0,663.3 L610.3,664.7 L610.7,666.2 L611.0,667.7 L611.3,669.1 L611.7,670.6 L612.0,672.1 L612.3,673.5 L612.7,675.0 L613.0,676.4 L613.3,677.9 L613.7,679.4 L614.0,680.8 L614.3,682.3 L614.7,683.8 L615.0,685.2 L615.3,686.7 L615.7,688.1 L616.0,689.6 L616.3,691.1 L616.6,692.5 L617.0,694.0 L617.3,695.5 L617.6,696.9 L618.0,698.4 L618.3,699.9 L618.6,701.3 L619.0,702.8 L619.3,704.2 L619.6,705.7 L619.9,707.2 L620.3,708.6 L620.6,710.1 L620.9,711.6 L621.3,713.0 L621.6,714.5 L621.9,716.0 L622.3,717.4 L622.6,718.9 L622.9,720.3 L623.2,721.8 L623.6,723.3 L623.9,724.7 L624.2,726.2 L624.6,727.7 L624.9,729.1 L625.2,730.6 L625.5,732.1 L625.8,733.5 L626.1,735.0 L626.4,736.5 L626.7,737.9 L627.0,739.4 L627.3,740.9 L627.6,742.4 L627.9,743.8 L628.1,745.3 L628.4,746.8 L628.7,748.3 L628.9,749.7 L629.2,751.2 L629.5,752.7 L629.7,754.2 L630.0,755.6 L630.3,757.1 L630.5,758.6 L630.8,760.1 L631.1,761.5 L631.3,763.0 L631.6,764.5 L631.9,766.0 L632.1,767.4 L632.4,768.9 L632.7,770.4 L632.9,771.9 L633.2,773.4 L633.5,774.8 L633.7,776.3 L634.0,777.8 L634.3,779.3 L634.6,780.7 L634.9,782.2 L635.1,783.7 L635.4,785.1 L635.7,786.6 L636.0,788.1 L636.3,789.6 L636.6,791.0 L636.9,792.5 L637.2,794.0 L637.6,795.4 L637.9,796.9 L638.2,798.4 L638.6,799.8 L638.9,801.3 L639.2,802.7 L639.6,804.2 L640.0,805.7 L640.3,807.1 L640.7,808.6 L641.1,810.0 L641.4,811.5 L641.8,812.9 L642.2,814.4 L642.6,815.8 L643.0,817.3 L643.3,818.7 L643.7,820.2 L644.1,821.6 L644.5,823.1 L644.9,824.5 L645.3,826.0 L645.6,827.4 L646.0,828.9 L646.4,830.3 L646.8,831.8 L647.2,833.2 L647.6,834.7 L647.9,836.1 L648.3,837.6 L648.7,839.0 L649.1,840.5 L649.5,841.9 L649.8,843.4 L650.2,844.8 L650.6,846.3 L650.9,847.8 L651.3,849.2 L651.6,850.7 L652.0,852.1 L652.4,853.6 L652.7,855.0 L653.1,856.5 L653.4,858.0 L653.8,859.4 L654.2,860.9 L654.5,862.3 L654.9,863.8 L655.3,865.2 L655.7,866.7 L656.0,868.1 L656.4,869.6 L656.9,871.0 L657.3,872.5 L657.7,873.9 L658.1,875.3 L658.6,876.8 L659.0,878.2 L659.5,879.6 L660.0,881.0 L660.4,882.5 L660.9,883.9 L661.4,885.3 L661.9,886.7 L662.3,888.2 L662.8,889.6 L663.3,891.0 L663.8,892.4 L664.2,893.9 L664.7,895.3 L665.2,896.7 L665.7,898.1 L666.2,899.5 L666.7,900.9 L667.2,902.4 L667.7,903.8 L668.2,905.2 L668.7,906.6 L669.2,908.0 L669.7,909.4 L670.2,910.8 L670.7,912.2 L671.3,913.6 L671.8,915.0 L672.4,916.4 L672.9,917.8 L673.5,919.2 L674.0,920.6 L674.6,922.0 L675.2,923.4 L675.8,924.8 L676.5,926.1 L677.1,927.5 L677.7,928.8 L678.4,930.2 L679.0,931.5 L679.7,932.9 L680.4,934.2 L681.1,935.5 L681.8,936.9 L682.5,938.2 L683.2,939.5 L683.9,940.9 L684.6,942.2 L685.3,943.5 L686.0,944.8 L686.7,946.2 L687.4,947.5 L688.1,948.8 L688.8,950.1 L689.5,951.4 L690.3,952.8 L691.0,954.1 L691.7,955.4 L692.5,956.7 L693.2,958.0 L694.0,959.3 L694.7,960.6 L695.5,961.9 L696.2,963.2 L697.0,964.5 L697.8,965.7 L698.6,967.0 L699.4,968.3 L700.2,969.5 L701.0,970.8 L701.9,972.0 L702.7,973.2 L703.6,974.5 L704.5,975.7 L705.4,976.9 L706.3,978.1 L707.2,979.2 L708.2,980.4 L709.1,981.6 L710.1,982.8 L711.1,983.9 L712.1,985.0 L713.1,986.1 L714.2,987.2 L715.2,988.2 L716.3,989.2 L717.4,990.3 L718.6,991.3 L719.7,992.2 L720.9,993.2 L722.0,994.2 L723.2,995.1 L724.4,996.0 L725.6,996.8 L726.8,997.7 L728.1,998.5 L729.3,999.4 L730.6,1000.2 L731.9,1001.0 L733.2,1001.8 L734.5,1002.5 L735.8,1003.2 L737.1,1003.9 L738.5,1004.5 L739.8,1005.1 L741.3,1005.7 L742.7,1006.2 L744.2,1006.6 L745.7,1007.0 L747.2,1007.3 L748.7,1007.6 L750.2,1007.8 L751.6,1007.9 L753.1,1007.9 L754.6,1007.8 L756.1,1007.7 L757.6,1007.6 L759.1,1007.4 L760.6,1007.3 L762.1,1007.1 L763.6,1007.0 L765.1,1006.8 L766.5,1006.6 L768.0,1006.4 L769.5,1006.2 L771.0,1005.9 L772.5,1005.7 L774.0,1005.4 L775.4,1005.2 L776.9,1004.9 L778.4,1004.6 L779.9,1004.4 L781.4,1004.1 L782.8,1003.9 L784.3,1003.7 L785.8,1003.5 L787.3,1003.3 L788.8,1003.2 L790.3,1003.1 L791.8,1003.0 L793.3,1003.0 L794.8,1003.0 L796.3,1003.0 L797.8,1003.0 L799.3,1003.1 L800.8,1003.1 L802.3,1003.2 L803.8,1003.4 L805.3,1003.5 L806.8,1003.6 L808.3,1003.8 L809.8,1003.9 L811.3,1004.0 L812.8,1004.2 L814.3,1004.3 L815.8,1004.3 L817.3,1004.4 L818.8,1004.5 L820.3,1004.6 L821.8,1004.6 L823.3,1004.7 L824.8,1004.7 L826.3,1004.7 L827.8,1004.8 L829.3,1004.8 L830.8,1004.8 L832.3,1004.8 L833.7,1004.7 L835.2,1004.6 L836.7,1004.4 L838.2,1004.2 L839.7,1004.0 L841.2,1003.8 L842.7,1003.6 L844.2,1003.3 L845.6,1003.0 L847.1,1002.6 L848.5,1002.2 L850.0,1001.8 L851.4,1001.3 L852.8,1000.7 L854.2,1000.1 L855.6,999.5 L856.9,998.8 L858.3,998.1 L859.6,997.3 L860.8,996.5 L862.0,995.7 L863.2,994.8 L864.4,993.8 L865.6,992.8 L866.7,991.8 L867.8,990.7 L868.8,989.6 L869.9,988.5 L870.9,987.4 L871.9,986.3 L872.9,985.1 L873.8,984.0 L874.7,982.8 L875.6,981.6 L876.4,980.3 L877.2,979.0 L877.9,977.7 L878.6,976.4 L879.3,975.1 L880.1,973.8 L880.8,972.5 L881.5,971.1 L882.2,969.8 L882.9,968.5 L883.6,967.2 L884.3,965.8 L885.0,964.5 L885.7,963.2 L886.4,961.9 L887.1,960.5 L887.8,959.2 L888.4,957.8 L889.1,956.5 L889.8,955.2 L890.5,953.8 L891.1,952.5 L891.8,951.1 L892.5,949.8 L893.1,948.4 L893.8,947.1 L894.5,945.8 L895.1,944.4 L895.8,943.1 L896.5,941.7 L897.1,940.4 L897.8,939.1 L898.5,937.7 L899.3,936.4 L900.0,935.1 L900.8,933.9 L901.6,932.6 L902.4,931.3 L903.2,930.0 L904.0,928.8 L904.8,927.5 L905.7,926.3 L906.5,925.1 L907.4,924.0 L908.4,922.9 L909.4,921.8 L910.6,920.8 L911.9,919.8 L913.2,918.8 L914.6,918.0 L916.0,917.4 L917.4,917.0 L918.8,916.9 L920.2,917.1 L921.6,917.4 L923.0,918.0 L924.4,918.8 L925.8,919.7 L927.1,920.7 L928.3,921.7 L929.4,922.8 L930.4,923.9 L931.4,925.0 L932.3,926.0 L933.3,927.1 L934.3,928.2 L935.4,929.2 L936.5,930.2 L937.5,931.1 L938.6,932.1 L939.8,933.1 L941.0,934.0 L942.3,934.9 L943.8,935.7 L945.2,936.3 L946.6,936.7 L948.1,936.9 L949.5,936.9 L951.0,936.7 L952.5,936.4 L953.9,935.9 L955.3,935.1 L956.5,934.0 L957.7,932.9 L958.7,931.8 L959.7,930.7 L960.6,929.6 L961.6,928.4 L962.5,927.3 L963.5,926.2 L964.5,925.1 L965.5,924.0 L966.5,922.9 L967.5,921.8 L968.5,920.7 L969.6,919.6 L970.6,918.5 L971.7,917.4 L973.0,916.6 L974.6,916.1 L976.2,916.0 L977.6,916.3 L978.9,916.8 L980.3,917.4 L981.6,918.2 L982.9,919.2 L984.0,920.2 L985.0,921.4 L986.0,922.6 L986.9,923.8 L987.8,925.0 L988.7,926.2 L989.6,927.4 L990.5,928.6 L991.3,929.8 L992.2,931.0 L993.0,932.3 L993.9,933.5 L994.7,934.7 L995.5,936.0 L996.4,937.2 L997.2,938.5 L998.0,939.7 L998.9,941.0 L999.7,942.2 L1000.5,943.5 L1001.4,944.7 L1002.2,946.0 L1003.0,947.2 L1003.9,948.5 L1004.7,949.7 L1005.5,951.0 L1006.3,952.2 L1007.1,953.5 L1007.9,954.8 L1008.7,956.1 L1009.4,957.3 L1010.2,958.6 L1011.0,959.9 L1011.8,961.2 L1012.6,962.5 L1013.3,963.8 L1014.1,965.0 L1014.9,966.3 L1015.8,967.5 L1016.6,968.7 L1017.5,969.9 L1018.4,971.0 L1019.4,972.1 L1020.5,973.2 L1021.6,974.3 L1022.9,975.4 L1024.2,976.4 L1025.6,977.1 L1026.9,977.7 L1028.3,977.9 L1029.7,977.8 L1031.1,977.4 L1032.6,976.8 L1034.0,976.1 L1035.3,975.3 L1036.7,974.4 L1037.9,973.6 L1039.2,972.8 L1040.3,971.8 L1041.4,970.9 L1042.4,969.8 L1043.4,968.6 L1044.4,967.5 L1045.4,966.4 L1046.3,965.2 L1047.3,964.1 L1048.3,962.9 L1049.2,961.8 L1050.2,960.6 L1051.1,959.5 L1052.1,958.3 L1053.0,957.2 L1054.0,956.0 L1054.9,954.8 L1055.9,953.7 L1057.1,952.6 L1058.5,951.7 L1059.9,951.2 L1061.3,951.1 L1062.6,951.6 L1063.9,952.4 L1065.1,953.6 L1066.0,954.9 L1066.7,956.3 L1067.4,957.7 L1068.0,959.1 L1068.6,960.4 L1069.1,961.8 L1069.7,963.2 L1070.2,964.6 L1070.7,966.0 L1071.2,967.4 L1071.8,968.8 L1072.3,970.2 L1072.8,971.6 L1073.4,973.0 L1073.9,974.4 L1074.4,975.8 L1074.9,977.2 L1075.4,978.6 L1076.0,980.0 L1076.5,981.4 L1077.0,982.8 L1077.5,984.2 L1078.0,985.6 L1078.6,987.0 L1079.1,988.4 L1079.7,989.8 L1080.3,991.2 L1080.9,992.5 L1081.7,993.8 L1082.5,995.1 L1083.3,996.3 L1084.2,997.6 L1085.2,998.8 L1086.1,1000.0 L1087.1,1001.1 L1088.2,1002.2 L1089.3,1003.2 L1090.5,1004.1 L1091.7,1005.0 L1093.0,1005.8 L1094.4,1006.4 L1095.8,1006.9 L1097.2,1007.4 L1098.6,1008.0 L1099.9,1008.8 L1101.1,1009.6 L1102.3,1010.5 L1103.5,1011.4 L1104.7,1012.3 L1105.9,1013.3 L1107.0,1014.2 L1108.1,1015.2 L1109.3,1016.2 L1110.4,1017.2 L1111.5,1018.2 L1112.6,1019.2 L1113.7,1020.3 L1114.7,1021.4 L1115.8,1022.5 L1116.7,1023.6 L1117.7,1024.7 L1118.7,1025.9 L1119.7,1027.0 L1120.7,1028.1 L1121.7,1029.2 L1122.8,1030.3 L1123.8,1031.3 L1125.0,1032.3 L1126.1,1033.3 L1127.2,1034.3 L1128.4,1035.2 L1129.5,1036.2 L1130.7,1037.2 L1131.9,1038.1 L1133.2,1039.0 L1134.5,1039.8 L1135.8,1040.4 L1137.3,1040.7 L1138.8,1040.9 L1140.3,1040.9 L1141.8,1040.9 L1143.3,1040.9 L1144.8,1040.9 L1146.3,1040.8 L1147.8,1040.8 L1149.3,1040.7 L1150.8,1040.7 L1152.3,1040.7 L1153.8,1041.0 L1155.2,1041.5 L1156.5,1042.3 L1157.8,1043.1 L1159.0,1044.0 L1160.2,1044.9 L1161.4,1045.8 L1162.6,1046.7 L1163.7,1047.6 L1165.0,1048.5 L1166.2,1049.4 L1167.4,1050.2 L1168.7,1051.1 L1169.9,1051.9 L1171.2,1052.7 L1172.5,1053.4 L1173.9,1054.1 L1175.3,1054.4 L1176.8,1054.5 L1178.4,1054.7 L1179.8,1054.9 L1181.3,1055.4 L1182.7,1056.0 L1184.0,1056.6 L1185.3,1057.4 L1186.6,1058.2 L1187.7,1059.3 L1188.8,1060.3 L1189.8,1061.4 L1190.9,1062.4 L1191.9,1063.5 L1193.0,1064.6 L1194.0,1065.6 L1195.1,1066.7 L1196.1,1067.7 L1197.2,1068.8 L1198.2,1069.8 L1199.3,1070.8 L1200.4,1071.8 L1201.7,1072.8 L1203.1,1073.7 L1204.5,1074.2 L1206.0,1074.4 L1207.5,1074.2 L1208.9,1073.8 L1210.3,1073.3 L1211.7,1072.7 L1213.1,1072.1 L1214.5,1071.4 L1215.8,1070.7 L1217.1,1070.0 L1218.4,1069.4 L1219.8,1068.7 L1221.3,1068.1 L1222.8,1067.6 L1224.3,1067.3 L1225.8,1067.3 L1227.2,1067.6 L1228.5,1068.3 L1229.7,1069.1 L1230.9,1070.0 L1232.1,1071.1 L1233.2,1072.2 L1234.2,1073.3 L1235.3,1074.4 L1236.3,1075.5 L1237.2,1076.6 L1238.2,1077.7 L1239.2,1078.9 L1240.2,1079.9 L1241.3,1081.0 L1242.4,1082.1 L1243.5,1083.2 L1244.7,1084.2 L1245.9,1085.1 L1247.2,1085.9 L1248.5,1086.4 L1250.0,1086.8 L1251.5,1087.1 L1253.0,1087.4 L1254.4,1087.6 L1255.9,1087.9 L1257.4,1088.2 L1258.8,1088.5 L1260.3,1088.8 L1261.8,1089.1 L1263.2,1089.4 L1264.7,1089.7 L1266.2,1090.0 L1267.7,1090.3 L1269.1,1090.6 L1270.4,1090.3 L1271.5,1089.1 L1272.3,1087.6 L1273.0,1086.0 L1273.6,1084.6 L1274.2,1083.2 L1274.8,1081.9 L1275.4,1080.5 L1276.0,1079.1 L1276.5,1077.7 L1277.1,1076.3 L1277.7,1075.0 L1278.4,1073.6 L1279.0,1072.2 L1279.6,1070.8 L1280.2,1069.4 L1280.9,1068.0 L1281.5,1066.6 L1282.2,1065.3 L1282.9,1064.1 L1283.7,1062.9 L1284.9,1062.9 L1286.3,1063.8 L1287.7,1065.2 L1288.9,1066.6 L1289.9,1067.7 L1290.9,1068.9 L1291.9,1070.0 L1292.8,1071.2 L1293.8,1072.3 L1294.8,1073.4 L1295.7,1074.6 L1296.7,1075.7 L1297.7,1076.9 L1299.0,1077.4 L1300.6,1077.6 L1301.8,1078.5 L1302.9,1079.4 L1304.0,1080.5 L1305.1,1081.6 L1306.1,1082.7 L1307.0,1083.9 L1307.9,1085.1 L1308.8,1086.3 L1309.7,1087.5 L1310.6,1088.7 L1311.5,1089.9 L1312.4,1091.1 L1313.3,1092.3 L1314.2,1093.5 L1315.1,1094.7 L1316.0,1095.8 L1316.9,1097.0 L1317.8,1098.2 L1318.7,1099.4 L1319.7,1100.6 L1320.7,1101.7 L1321.8,1102.6 L1322.9,1103.6 L1324.2,1104.5 L1325.6,1105.4 L1327.0,1106.1 L1328.4,1106.7 L1329.9,1106.9 L1331.4,1106.7 L1332.8,1106.4 L1334.3,1106.2 L1335.8,1105.9 L1337.2,1105.6 L1338.7,1105.3 L1340.2,1105.0 L1341.7,1104.7 L1343.1,1104.4 L1344.6,1104.1 L1345.9,1103.5 L1347.1,1102.6 L1348.2,1101.5 L1349.4,1100.5 L1350.7,1099.7 L1352.2,1099.1 L1353.6,1098.6 L1355.1,1098.4 L1356.5,1098.5 L1357.9,1098.9 L1359.3,1099.7 L1360.6,1100.5 L1361.8,1101.6 L1362.7,1102.7 L1363.7,1103.8 L1364.7,1104.9 L1365.9,1105.8 L1367.2,1106.7 L1368.6,1107.5 L1369.9,1108.0 L1371.3,1108.3 L1372.8,1108.3 L1374.2,1107.8 L1375.6,1107.0 L1376.9,1106.0 L1378.1,1104.9 L1379.0,1103.8 L1379.9,1102.6 L1380.8,1101.5 L1381.8,1100.4 L1382.8,1099.3 L1383.9,1098.3 L1385.1,1097.3 L1386.3,1096.4 L1387.5,1095.6 L1388.9,1094.8 L1390.5,1094.6 L1391.9,1095.1 L1393.0,1096.1 L1394.0,1097.2 L1395.0,1098.3 L1396.0,1099.5 L1396.9,1100.7 L1397.8,1101.9 L1398.6,1103.1 L1399.5,1104.3 L1400.5,1105.5 L1401.6,1106.7 L1402.8,1107.8 L1404.1,1108.6 L1405.5,1108.9 L1407.0,1108.9 L1408.5,1108.9 L1410.0,1108.9 L1411.5,1108.9 L1413.0,1108.9 L1414.5,1108.9 L1416.0,1108.9 L1417.5,1108.9 L1419.0,1108.9 L1420.5,1108.9 L1422.0,1108.9 L1423.5,1108.9 L1425.0,1108.9 L1426.5,1108.9 L1428.0,1108.9 L1429.5,1108.9 L1431.0,1108.9 L1432.5,1108.9 L1434.0,1108.9 L1435.5,1108.9 L1437.0,1108.9 L1438.5,1108.9 L1440.0,1108.9 L1441.5,1108.9 L1443.0,1108.9 L1444.5,1108.9 L1446.0,1108.9 L1447.5,1108.9 L1449.0,1108.9 L1450.5,1108.9 L1452.0,1108.9 L1453.5,1108.9 L1455.0,1108.9 L1456.5,1108.9 L1458.0,1108.9 L1459.5,1108.9 L1461.0,1108.9 L1462.5,1108.9 L1464.0,1108.9 L1465.5,1108.9 L1467.0,1108.9 L1468.5,1108.9 L1470.0,1108.9 L1471.5,1108.9 L1473.0,1108.9 L1474.5,1108.9 L1476.0,1108.9 L1477.5,1108.9 L1479.0,1108.9 L1480.5,1108.9 L1482.0,1108.9 L1483.5,1108.9 L1485.0,1108.9 L1486.5,1108.9 L1488.0,1108.9 L1489.5,1108.9 L1491.0,1108.9 L1492.5,1108.9 L1494.0,1108.9 L1495.5,1108.9 L1497.0,1108.9 L1498.5,1108.9 L1500.0,1108.9 L1501.5,1108.9 L1503.0,1108.9 L1504.5,1108.9 L1506.0,1108.9 L1507.5,1108.9 L1509.0,1108.9 L1510.5,1108.9 L1512.0,1108.9 L1513.5,1108.9 L1515.0,1108.9 L1516.5,1108.9 L1518.0,1108.9 L1519.5,1108.9 L1521.0,1108.9 L1522.5,1108.9 L1524.0,1108.9 L1525.5,1108.9 L1527.0,1108.9 L1528.5,1108.9" fill="none" stroke="#9933FF" stroke-width="2.8" stroke-linejoin="round" stroke-linecap="butt"/>
<text class="tl" transform="translate(157.3,1125.3) scale(1,1.017)" text-anchor="end">0.0</text>
<text class="tl" transform="translate(157.3,908.3) scale(1,1.017)" text-anchor="end">0.1</text>
<text class="tl" transform="translate(157.3,691.3) scale(1,1.017)" text-anchor="end">0.2</text>
<text class="tl" transform="translate(157.3,474.4) scale(1,1.017)" text-anchor="end">0.3</text>
<text class="tl" transform="translate(157.3,257.4) scale(1,1.017)" text-anchor="end">0.4</text>
<text class="tl" transform="translate(157.3,40.4) scale(1,1.017)" text-anchor="end">0.5</text>
<text class="tl" transform="translate(180.4,1173.4) scale(1,1.017)" text-anchor="middle">10</text>
<text class="tl" transform="translate(629.9,1173.4) scale(1,1.017)" text-anchor="middle">1</text>
<text class="tl" transform="translate(1079.3,1173.4) scale(1,1.017)" text-anchor="middle">0.1</text>
<text class="tl" transform="translate(1528.8,1173.4) scale(1,1.017)" text-anchor="middle">0.01</text>
<text class="al" transform="translate(856.2,1264.8) scale(1,1.012)" text-anchor="middle">Pore diameter (μm)</text>
<text class="yl" transform="translate(41.3,566.0) rotate(-90) scale(1,1.015)" text-anchor="middle">Differential pore volume (-dV/dlog d) (cc/g<tspan dx="2.5">)</tspan></text>
<line x1="1203.5" y1="78.3" x2="1319.8" y2="78.3" stroke="#000000" stroke-width="2.8" stroke-linecap="round"/>
<text class="lg" transform="translate(1334.6,96.9) scale(1,1.028)">G2800</text>
<line x1="1203.5" y1="142.9" x2="1319.8" y2="142.9" stroke="#FF0000" stroke-width="2.8" stroke-linecap="round"/>
<text class="lg" transform="translate(1334.6,161.5) scale(1,1.028)">G2970</text>
<line x1="1203.5" y1="207.5" x2="1319.8" y2="207.5" stroke="#0000FF" stroke-width="2.8" stroke-linecap="round"/>
<text class="lg" transform="translate(1334.6,226.1) scale(1,1.028)">G3100</text>
<line x1="1203.5" y1="272.1" x2="1319.8" y2="272.1" stroke="#00D400" stroke-width="2.8" stroke-linecap="round"/>
<text class="lg" transform="translate(1332.6,290.5) scale(1,1.048)" letter-spacing="1.6">AG</text>
<line x1="1203.5" y1="336.7" x2="1319.8" y2="336.7" stroke="#9933FF" stroke-width="2.8" stroke-linecap="round"/>
<text class="lg" transform="translate(1334.6,355.1) scale(1,1.048)">NG</text>
</svg>
</body></html>
